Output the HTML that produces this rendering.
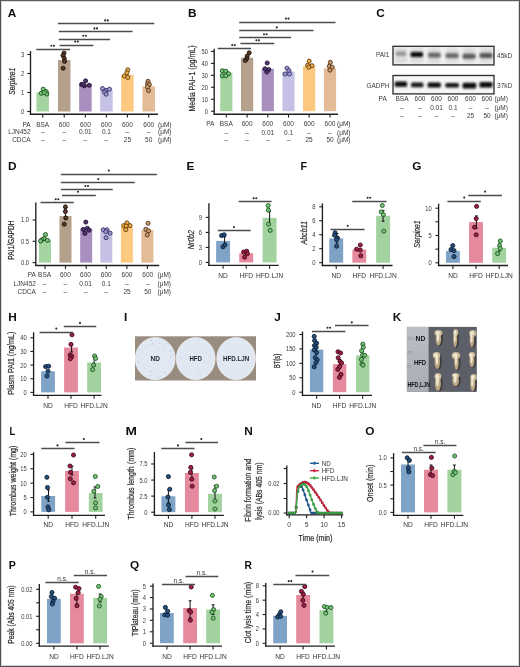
<!DOCTYPE html>
<html><head><meta charset="utf-8"><title>Figure</title>
<style>
html,body{margin:0;padding:0;background:#fff;}
body{width:520px;height:667px;overflow:hidden;}
svg{display:block;font-family:"Liberation Sans", sans-serif;will-change:transform;}
</style></head>
<body>
<svg width="520" height="667" viewBox="0 0 520 667">
<rect x="0" y="0" width="520" height="667" fill="#fff"/>
<text transform="translate(7.80,17.00) scale(1.0,1)" x="0" y="0" font-size="11.8" font-weight="bold" fill="#0e0e0e">A</text>
<line x1="30.50" y1="51.20" x2="30.50" y2="114.50" stroke="#1e1e1e" stroke-width="1.35"/>
<line x1="27.30" y1="111.50" x2="30.50" y2="111.50" stroke="#1e1e1e" stroke-width="1.1"/>
<text transform="translate(24.20,113.98) scale(0.84,1)" x="0" y="0" font-size="6.9" text-anchor="end" font-weight="normal" font-style="normal" fill="#3a3a3a">0</text>
<line x1="27.30" y1="92.50" x2="30.50" y2="92.50" stroke="#1e1e1e" stroke-width="1.1"/>
<text transform="translate(24.20,94.98) scale(0.84,1)" x="0" y="0" font-size="6.9" text-anchor="end" font-weight="normal" font-style="normal" fill="#3a3a3a">1</text>
<line x1="27.30" y1="73.50" x2="30.50" y2="73.50" stroke="#1e1e1e" stroke-width="1.1"/>
<text transform="translate(24.20,75.98) scale(0.84,1)" x="0" y="0" font-size="6.9" text-anchor="end" font-weight="normal" font-style="normal" fill="#3a3a3a">2</text>
<line x1="27.30" y1="54.50" x2="30.50" y2="54.50" stroke="#1e1e1e" stroke-width="1.1"/>
<text transform="translate(24.20,56.98) scale(0.84,1)" x="0" y="0" font-size="6.9" text-anchor="end" font-weight="normal" font-style="normal" fill="#3a3a3a">3</text>
<rect x="36.45" y="92.30" width="12.50" height="19.20" fill="#a4d4a0"/>
<rect x="57.95" y="60.00" width="12.50" height="51.50" fill="#b5a08c"/>
<rect x="79.15" y="84.60" width="12.50" height="26.90" fill="#a88fbf"/>
<rect x="100.15" y="89.40" width="12.50" height="22.10" fill="#c4c1e5"/>
<rect x="121.15" y="74.80" width="12.50" height="36.70" fill="#fdc981"/>
<rect x="142.45" y="86.40" width="12.50" height="25.10" fill="#e3bb96"/>
<line x1="29.85" y1="114.20" x2="158.00" y2="114.20" stroke="#1e1e1e" stroke-width="1.35"/>
<line x1="42.70" y1="114.20" x2="42.70" y2="117.60" stroke="#1e1e1e" stroke-width="1.1"/>
<line x1="64.20" y1="114.20" x2="64.20" y2="117.60" stroke="#1e1e1e" stroke-width="1.1"/>
<line x1="85.40" y1="114.20" x2="85.40" y2="117.60" stroke="#1e1e1e" stroke-width="1.1"/>
<line x1="106.40" y1="114.20" x2="106.40" y2="117.60" stroke="#1e1e1e" stroke-width="1.1"/>
<line x1="127.40" y1="114.20" x2="127.40" y2="117.60" stroke="#1e1e1e" stroke-width="1.1"/>
<line x1="148.70" y1="114.20" x2="148.70" y2="117.60" stroke="#1e1e1e" stroke-width="1.1"/>
<circle cx="43.20" cy="89.20" r="2.05" fill="#7cc47c" stroke="#0f4a17" stroke-width="0.85"/>
<circle cx="41.30" cy="93.30" r="2.05" fill="#7cc47c" stroke="#0f4a17" stroke-width="0.85"/>
<circle cx="46.20" cy="91.60" r="2.05" fill="#7cc47c" stroke="#0f4a17" stroke-width="0.85"/>
<circle cx="46.80" cy="94.00" r="2.05" fill="#7cc47c" stroke="#0f4a17" stroke-width="0.85"/>
<circle cx="44.20" cy="92.60" r="2.05" fill="#7cc47c" stroke="#0f4a17" stroke-width="0.85"/>
<circle cx="64.00" cy="53.00" r="2.05" fill="#553826" stroke="#1e120a" stroke-width="0.85"/>
<circle cx="63.00" cy="55.60" r="2.05" fill="#553826" stroke="#1e120a" stroke-width="0.85"/>
<circle cx="64.30" cy="58.40" r="2.05" fill="#553826" stroke="#1e120a" stroke-width="0.85"/>
<circle cx="64.60" cy="61.40" r="2.05" fill="#553826" stroke="#1e120a" stroke-width="0.85"/>
<circle cx="63.10" cy="68.20" r="2.05" fill="#553826" stroke="#1e120a" stroke-width="0.85"/>
<circle cx="85.60" cy="80.90" r="2.05" fill="#4e3470" stroke="#1f1030" stroke-width="0.85"/>
<circle cx="81.60" cy="84.40" r="2.05" fill="#4e3470" stroke="#1f1030" stroke-width="0.85"/>
<circle cx="84.50" cy="85.80" r="2.05" fill="#4e3470" stroke="#1f1030" stroke-width="0.85"/>
<circle cx="89.30" cy="85.30" r="2.05" fill="#4e3470" stroke="#1f1030" stroke-width="0.85"/>
<circle cx="83.00" cy="84.80" r="2.05" fill="#4e3470" stroke="#1f1030" stroke-width="0.85"/>
<circle cx="102.50" cy="88.50" r="2.05" fill="#9d9ad0" stroke="#2e2b60" stroke-width="0.85"/>
<circle cx="106.00" cy="90.40" r="2.05" fill="#9d9ad0" stroke="#2e2b60" stroke-width="0.85"/>
<circle cx="109.40" cy="89.20" r="2.05" fill="#9d9ad0" stroke="#2e2b60" stroke-width="0.85"/>
<circle cx="104.60" cy="92.20" r="2.05" fill="#9d9ad0" stroke="#2e2b60" stroke-width="0.85"/>
<circle cx="106.20" cy="94.20" r="2.05" fill="#9d9ad0" stroke="#2e2b60" stroke-width="0.85"/>
<circle cx="127.80" cy="69.80" r="2.05" fill="#eeaa48" stroke="#5a3a08" stroke-width="0.85"/>
<circle cx="126.90" cy="72.80" r="2.05" fill="#eeaa48" stroke="#5a3a08" stroke-width="0.85"/>
<circle cx="124.40" cy="76.00" r="2.05" fill="#eeaa48" stroke="#5a3a08" stroke-width="0.85"/>
<circle cx="127.80" cy="77.50" r="2.05" fill="#eeaa48" stroke="#5a3a08" stroke-width="0.85"/>
<circle cx="148.10" cy="81.30" r="2.05" fill="#c99a6c" stroke="#4a2e14" stroke-width="0.85"/>
<circle cx="147.50" cy="83.80" r="2.05" fill="#c99a6c" stroke="#4a2e14" stroke-width="0.85"/>
<circle cx="149.40" cy="84.60" r="2.05" fill="#c99a6c" stroke="#4a2e14" stroke-width="0.85"/>
<circle cx="147.50" cy="86.90" r="2.05" fill="#c99a6c" stroke="#4a2e14" stroke-width="0.85"/>
<circle cx="148.50" cy="90.60" r="2.05" fill="#c99a6c" stroke="#4a2e14" stroke-width="0.85"/>
<line x1="58.00" y1="23.50" x2="154.30" y2="23.50" stroke="#4c4c4c" stroke-width="1.3"/>
<circle cx="105.20" cy="20.40" r="1.05" fill="#2a2a2a"/>
<circle cx="107.80" cy="20.40" r="1.05" fill="#2a2a2a"/>
<line x1="58.80" y1="31.50" x2="132.60" y2="31.50" stroke="#4c4c4c" stroke-width="1.3"/>
<circle cx="94.40" cy="28.40" r="1.05" fill="#2a2a2a"/>
<circle cx="97.00" cy="28.40" r="1.05" fill="#2a2a2a"/>
<line x1="58.80" y1="39.50" x2="110.00" y2="39.50" stroke="#4c4c4c" stroke-width="1.3"/>
<circle cx="83.30" cy="35.80" r="1.05" fill="#2a2a2a"/>
<circle cx="85.90" cy="35.80" r="1.05" fill="#2a2a2a"/>
<line x1="59.70" y1="45.50" x2="93.40" y2="45.50" stroke="#4c4c4c" stroke-width="1.3"/>
<circle cx="75.20" cy="41.60" r="1.05" fill="#2a2a2a"/>
<circle cx="77.80" cy="41.60" r="1.05" fill="#2a2a2a"/>
<line x1="36.20" y1="49.50" x2="70.00" y2="49.50" stroke="#4c4c4c" stroke-width="1.3"/>
<circle cx="51.40" cy="45.80" r="1.05" fill="#2a2a2a"/>
<circle cx="54.00" cy="45.80" r="1.05" fill="#2a2a2a"/>
<text transform="translate(12.00,81.20) rotate(-90)" x="0" y="2.95" font-size="8.2" text-anchor="middle" font-weight="normal" font-style="italic" fill="#2e2e2e" stroke="#2e2e2e" stroke-width="0.22" textLength="26.90" lengthAdjust="spacingAndGlyphs">Serpine1</text>
<text x="30.60" y="126.84" font-size="6.5" text-anchor="end" font-weight="normal" font-style="normal" fill="#3a3a3a">PA</text>
<text x="42.70" y="126.84" font-size="6.5" text-anchor="middle" font-weight="normal" font-style="normal" fill="#3a3a3a">BSA</text>
<text x="64.20" y="126.84" font-size="6.5" text-anchor="middle" font-weight="normal" font-style="normal" fill="#3a3a3a">600</text>
<text x="85.40" y="126.84" font-size="6.5" text-anchor="middle" font-weight="normal" font-style="normal" fill="#3a3a3a">600</text>
<text x="106.40" y="126.84" font-size="6.5" text-anchor="middle" font-weight="normal" font-style="normal" fill="#3a3a3a">600</text>
<text x="127.40" y="126.84" font-size="6.5" text-anchor="middle" font-weight="normal" font-style="normal" fill="#3a3a3a">600</text>
<text x="148.70" y="126.84" font-size="6.5" text-anchor="middle" font-weight="normal" font-style="normal" fill="#3a3a3a">600</text>
<text x="158.00" y="126.84" font-size="6.5" text-anchor="start" font-weight="normal" font-style="normal" fill="#3a3a3a">(μM)</text>
<text x="30.60" y="134.34" font-size="6.5" text-anchor="end" font-weight="normal" font-style="normal" fill="#3a3a3a">LJN452</text>
<text x="42.70" y="134.34" font-size="6.5" text-anchor="middle" font-weight="normal" font-style="normal" fill="#3a3a3a">–</text>
<text x="64.20" y="134.34" font-size="6.5" text-anchor="middle" font-weight="normal" font-style="normal" fill="#3a3a3a">–</text>
<text x="85.40" y="134.34" font-size="6.5" text-anchor="middle" font-weight="normal" font-style="normal" fill="#3a3a3a">0.01</text>
<text x="106.40" y="134.34" font-size="6.5" text-anchor="middle" font-weight="normal" font-style="normal" fill="#3a3a3a">0.1</text>
<text x="127.40" y="134.34" font-size="6.5" text-anchor="middle" font-weight="normal" font-style="normal" fill="#3a3a3a">–</text>
<text x="148.70" y="134.34" font-size="6.5" text-anchor="middle" font-weight="normal" font-style="normal" fill="#3a3a3a">–</text>
<text x="158.00" y="134.34" font-size="6.5" text-anchor="start" font-weight="normal" font-style="normal" fill="#3a3a3a">(μM)</text>
<text x="30.60" y="141.94" font-size="6.5" text-anchor="end" font-weight="normal" font-style="normal" fill="#3a3a3a">CDCA</text>
<text x="42.70" y="141.94" font-size="6.5" text-anchor="middle" font-weight="normal" font-style="normal" fill="#3a3a3a">–</text>
<text x="64.20" y="141.94" font-size="6.5" text-anchor="middle" font-weight="normal" font-style="normal" fill="#3a3a3a">–</text>
<text x="85.40" y="141.94" font-size="6.5" text-anchor="middle" font-weight="normal" font-style="normal" fill="#3a3a3a">–</text>
<text x="106.40" y="141.94" font-size="6.5" text-anchor="middle" font-weight="normal" font-style="normal" fill="#3a3a3a">–</text>
<text x="127.40" y="141.94" font-size="6.5" text-anchor="middle" font-weight="normal" font-style="normal" fill="#3a3a3a">25</text>
<text x="148.70" y="141.94" font-size="6.5" text-anchor="middle" font-weight="normal" font-style="normal" fill="#3a3a3a">50</text>
<text x="158.00" y="141.94" font-size="6.5" text-anchor="start" font-weight="normal" font-style="normal" fill="#3a3a3a">(μM)</text>
<text transform="translate(188.00,16.90) scale(1.0,1)" x="0" y="0" font-size="11.8" font-weight="bold" fill="#0e0e0e">B</text>
<line x1="214.20" y1="48.70" x2="214.20" y2="114.50" stroke="#1e1e1e" stroke-width="1.35"/>
<line x1="211.00" y1="111.20" x2="214.20" y2="111.20" stroke="#1e1e1e" stroke-width="1.1"/>
<text transform="translate(208.00,113.68) scale(0.84,1)" x="0" y="0" font-size="6.9" text-anchor="end" font-weight="normal" font-style="normal" fill="#3a3a3a">0</text>
<line x1="211.00" y1="99.25" x2="214.20" y2="99.25" stroke="#1e1e1e" stroke-width="1.1"/>
<text transform="translate(208.00,101.73) scale(0.84,1)" x="0" y="0" font-size="6.9" text-anchor="end" font-weight="normal" font-style="normal" fill="#3a3a3a">10</text>
<line x1="211.00" y1="87.30" x2="214.20" y2="87.30" stroke="#1e1e1e" stroke-width="1.1"/>
<text transform="translate(208.00,89.78) scale(0.84,1)" x="0" y="0" font-size="6.9" text-anchor="end" font-weight="normal" font-style="normal" fill="#3a3a3a">20</text>
<line x1="211.00" y1="75.35" x2="214.20" y2="75.35" stroke="#1e1e1e" stroke-width="1.1"/>
<text transform="translate(208.00,77.83) scale(0.84,1)" x="0" y="0" font-size="6.9" text-anchor="end" font-weight="normal" font-style="normal" fill="#3a3a3a">30</text>
<line x1="211.00" y1="63.40" x2="214.20" y2="63.40" stroke="#1e1e1e" stroke-width="1.1"/>
<text transform="translate(208.00,65.88) scale(0.84,1)" x="0" y="0" font-size="6.9" text-anchor="end" font-weight="normal" font-style="normal" fill="#3a3a3a">40</text>
<line x1="211.00" y1="51.45" x2="214.20" y2="51.45" stroke="#1e1e1e" stroke-width="1.1"/>
<text transform="translate(208.00,53.93) scale(0.84,1)" x="0" y="0" font-size="6.9" text-anchor="end" font-weight="normal" font-style="normal" fill="#3a3a3a">50</text>
<rect x="220.20" y="73.00" width="12.20" height="38.20" fill="#a4d4a0"/>
<rect x="241.00" y="57.70" width="12.20" height="53.50" fill="#b5a08c"/>
<rect x="261.70" y="68.80" width="12.20" height="42.40" fill="#a88fbf"/>
<rect x="282.40" y="71.70" width="12.20" height="39.50" fill="#c4c1e5"/>
<rect x="303.00" y="66.00" width="12.20" height="45.20" fill="#fdc981"/>
<rect x="323.90" y="68.30" width="12.20" height="42.90" fill="#e3bb96"/>
<line x1="213.55" y1="114.20" x2="338.00" y2="114.20" stroke="#1e1e1e" stroke-width="1.35"/>
<line x1="226.30" y1="114.20" x2="226.30" y2="117.60" stroke="#1e1e1e" stroke-width="1.1"/>
<line x1="247.10" y1="114.20" x2="247.10" y2="117.60" stroke="#1e1e1e" stroke-width="1.1"/>
<line x1="267.80" y1="114.20" x2="267.80" y2="117.60" stroke="#1e1e1e" stroke-width="1.1"/>
<line x1="288.50" y1="114.20" x2="288.50" y2="117.60" stroke="#1e1e1e" stroke-width="1.1"/>
<line x1="309.10" y1="114.20" x2="309.10" y2="117.60" stroke="#1e1e1e" stroke-width="1.1"/>
<line x1="330.00" y1="114.20" x2="330.00" y2="117.60" stroke="#1e1e1e" stroke-width="1.1"/>
<circle cx="222.30" cy="70.80" r="2.05" fill="#7cc47c" stroke="#0f4a17" stroke-width="0.85"/>
<circle cx="225.80" cy="71.20" r="2.05" fill="#7cc47c" stroke="#0f4a17" stroke-width="0.85"/>
<circle cx="228.50" cy="73.80" r="2.05" fill="#7cc47c" stroke="#0f4a17" stroke-width="0.85"/>
<circle cx="222.30" cy="75.80" r="2.05" fill="#7cc47c" stroke="#0f4a17" stroke-width="0.85"/>
<circle cx="225.80" cy="75.80" r="2.05" fill="#7cc47c" stroke="#0f4a17" stroke-width="0.85"/>
<circle cx="249.20" cy="52.80" r="2.05" fill="#553826" stroke="#1e120a" stroke-width="0.85"/>
<circle cx="247.20" cy="56.10" r="2.05" fill="#553826" stroke="#1e120a" stroke-width="0.85"/>
<circle cx="246.70" cy="58.60" r="2.05" fill="#553826" stroke="#1e120a" stroke-width="0.85"/>
<circle cx="245.30" cy="60.50" r="2.05" fill="#553826" stroke="#1e120a" stroke-width="0.85"/>
<circle cx="267.20" cy="63.00" r="2.05" fill="#4e3470" stroke="#1f1030" stroke-width="0.85"/>
<circle cx="264.90" cy="68.80" r="2.05" fill="#4e3470" stroke="#1f1030" stroke-width="0.85"/>
<circle cx="268.80" cy="69.50" r="2.05" fill="#4e3470" stroke="#1f1030" stroke-width="0.85"/>
<circle cx="266.80" cy="72.00" r="2.05" fill="#4e3470" stroke="#1f1030" stroke-width="0.85"/>
<circle cx="287.00" cy="68.20" r="2.05" fill="#9d9ad0" stroke="#2e2b60" stroke-width="0.85"/>
<circle cx="289.00" cy="70.70" r="2.05" fill="#9d9ad0" stroke="#2e2b60" stroke-width="0.85"/>
<circle cx="285.10" cy="74.00" r="2.05" fill="#9d9ad0" stroke="#2e2b60" stroke-width="0.85"/>
<circle cx="289.50" cy="74.00" r="2.05" fill="#9d9ad0" stroke="#2e2b60" stroke-width="0.85"/>
<circle cx="309.20" cy="61.10" r="2.05" fill="#eeaa48" stroke="#5a3a08" stroke-width="0.85"/>
<circle cx="307.60" cy="65.30" r="2.05" fill="#eeaa48" stroke="#5a3a08" stroke-width="0.85"/>
<circle cx="312.00" cy="65.70" r="2.05" fill="#eeaa48" stroke="#5a3a08" stroke-width="0.85"/>
<circle cx="308.80" cy="67.20" r="2.05" fill="#eeaa48" stroke="#5a3a08" stroke-width="0.85"/>
<circle cx="330.30" cy="62.40" r="2.05" fill="#c99a6c" stroke="#4a2e14" stroke-width="0.85"/>
<circle cx="329.30" cy="66.30" r="2.05" fill="#c99a6c" stroke="#4a2e14" stroke-width="0.85"/>
<circle cx="332.20" cy="67.20" r="2.05" fill="#c99a6c" stroke="#4a2e14" stroke-width="0.85"/>
<circle cx="329.90" cy="70.10" r="2.05" fill="#c99a6c" stroke="#4a2e14" stroke-width="0.85"/>
<line x1="239.20" y1="22.50" x2="335.50" y2="22.50" stroke="#4c4c4c" stroke-width="1.3"/>
<circle cx="285.90" cy="18.60" r="1.05" fill="#2a2a2a"/>
<circle cx="288.50" cy="18.60" r="1.05" fill="#2a2a2a"/>
<line x1="239.20" y1="30.50" x2="313.50" y2="30.50" stroke="#4c4c4c" stroke-width="1.3"/>
<circle cx="276.80" cy="27.40" r="1.05" fill="#2a2a2a"/>
<line x1="239.20" y1="37.50" x2="291.00" y2="37.50" stroke="#4c4c4c" stroke-width="1.3"/>
<circle cx="264.00" cy="34.30" r="1.05" fill="#2a2a2a"/>
<circle cx="266.60" cy="34.30" r="1.05" fill="#2a2a2a"/>
<line x1="240.40" y1="43.50" x2="274.30" y2="43.50" stroke="#4c4c4c" stroke-width="1.3"/>
<circle cx="256.40" cy="40.30" r="1.05" fill="#2a2a2a"/>
<circle cx="259.00" cy="40.30" r="1.05" fill="#2a2a2a"/>
<line x1="217.70" y1="48.50" x2="251.00" y2="48.50" stroke="#4c4c4c" stroke-width="1.3"/>
<circle cx="232.20" cy="45.10" r="1.05" fill="#2a2a2a"/>
<circle cx="234.80" cy="45.10" r="1.05" fill="#2a2a2a"/>
<text transform="translate(191.80,78.50) rotate(-90)" x="0" y="2.95" font-size="8.2" text-anchor="middle" font-weight="normal" font-style="normal" fill="#2e2e2e" stroke="#2e2e2e" stroke-width="0.22" textLength="66.10" lengthAdjust="spacingAndGlyphs">Media PAI−1 (pg/mL)</text>
<text x="214.40" y="126.34" font-size="6.5" text-anchor="end" font-weight="normal" font-style="normal" fill="#3a3a3a">PA</text>
<text x="226.30" y="126.34" font-size="6.5" text-anchor="middle" font-weight="normal" font-style="normal" fill="#3a3a3a">BSA</text>
<text x="247.10" y="126.34" font-size="6.5" text-anchor="middle" font-weight="normal" font-style="normal" fill="#3a3a3a">600</text>
<text x="267.80" y="126.34" font-size="6.5" text-anchor="middle" font-weight="normal" font-style="normal" fill="#3a3a3a">600</text>
<text x="288.50" y="126.34" font-size="6.5" text-anchor="middle" font-weight="normal" font-style="normal" fill="#3a3a3a">600</text>
<text x="309.10" y="126.34" font-size="6.5" text-anchor="middle" font-weight="normal" font-style="normal" fill="#3a3a3a">600</text>
<text x="330.00" y="126.34" font-size="6.5" text-anchor="middle" font-weight="normal" font-style="normal" fill="#3a3a3a">600</text>
<text x="337.00" y="126.34" font-size="6.5" text-anchor="start" font-weight="normal" font-style="normal" fill="#3a3a3a">(μM)</text>
<text x="226.30" y="134.64" font-size="6.5" text-anchor="middle" font-weight="normal" font-style="normal" fill="#3a3a3a">–</text>
<text x="247.10" y="134.64" font-size="6.5" text-anchor="middle" font-weight="normal" font-style="normal" fill="#3a3a3a">–</text>
<text x="267.80" y="134.64" font-size="6.5" text-anchor="middle" font-weight="normal" font-style="normal" fill="#3a3a3a">0.01</text>
<text x="288.50" y="134.64" font-size="6.5" text-anchor="middle" font-weight="normal" font-style="normal" fill="#3a3a3a">0.1</text>
<text x="309.10" y="134.64" font-size="6.5" text-anchor="middle" font-weight="normal" font-style="normal" fill="#3a3a3a">–</text>
<text x="330.00" y="134.64" font-size="6.5" text-anchor="middle" font-weight="normal" font-style="normal" fill="#3a3a3a">–</text>
<text x="337.00" y="134.64" font-size="6.5" text-anchor="start" font-weight="normal" font-style="normal" fill="#3a3a3a">(μM)</text>
<text x="226.30" y="142.34" font-size="6.5" text-anchor="middle" font-weight="normal" font-style="normal" fill="#3a3a3a">–</text>
<text x="247.10" y="142.34" font-size="6.5" text-anchor="middle" font-weight="normal" font-style="normal" fill="#3a3a3a">–</text>
<text x="267.80" y="142.34" font-size="6.5" text-anchor="middle" font-weight="normal" font-style="normal" fill="#3a3a3a">–</text>
<text x="288.50" y="142.34" font-size="6.5" text-anchor="middle" font-weight="normal" font-style="normal" fill="#3a3a3a">–</text>
<text x="309.10" y="142.34" font-size="6.5" text-anchor="middle" font-weight="normal" font-style="normal" fill="#3a3a3a">25</text>
<text x="330.00" y="142.34" font-size="6.5" text-anchor="middle" font-weight="normal" font-style="normal" fill="#3a3a3a">50</text>
<text x="337.00" y="142.34" font-size="6.5" text-anchor="start" font-weight="normal" font-style="normal" fill="#3a3a3a">(μM)</text>
<text transform="translate(376.30,17.30) scale(1.0,1)" x="0" y="0" font-size="11.8" font-weight="bold" fill="#0e0e0e">C</text>
<defs>
<filter id="blur1" x="-20%" y="-80%" width="140%" height="260%"><feGaussianBlur stdDeviation="1.1 1.2"/></filter>
<filter id="blur2" x="-20%" y="-20%" width="140%" height="140%"><feGaussianBlur stdDeviation="1.6"/></filter>
<filter id="blur3" x="-20%" y="-20%" width="140%" height="140%"><feGaussianBlur stdDeviation="0.6"/></filter>
</defs>
<rect x="392.80" y="46.00" width="101.40" height="18.80" fill="#f1f1f1"/>
<g filter="url(#blur2)">
<rect x="394.7" y="48" width="12.4" height="15" fill="#000" opacity="0.09"/>
<rect x="410.6" y="48" width="12.4" height="15" fill="#000" opacity="0.09"/>
<rect x="428.1" y="48" width="12.4" height="15" fill="#000" opacity="0.09"/>
<rect x="445.90000000000003" y="48" width="12.4" height="15" fill="#000" opacity="0.09"/>
<rect x="462.90000000000003" y="48" width="12.4" height="15" fill="#000" opacity="0.09"/>
<rect x="479.8" y="48" width="12.4" height="15" fill="#000" opacity="0.09"/>
</g>
<g filter="url(#blur1)">
<rect x="395.7" y="51.5" width="10.4" height="4.6" rx="1.5" fill="#111" opacity="0.3"/>
<rect x="410.6" y="51.9" width="12.4" height="5.0" rx="1.5" fill="#111" opacity="1.0"/>
<rect x="428.0" y="52.7" width="12.6" height="4.8" rx="1.5" fill="#111" opacity="0.58"/>
<rect x="445.6" y="53.2" width="13.0" height="4.8" rx="1.5" fill="#111" opacity="0.58"/>
<rect x="462.70000000000005" y="53.8" width="12.8" height="5.0" rx="1.5" fill="#111" opacity="0.64"/>
<rect x="479.6" y="53.0" width="12.8" height="5.0" rx="1.5" fill="#111" opacity="0.66"/>
</g>
<rect x="393.00" y="46.30" width="101.00" height="18.60" fill="none" stroke="#303030" stroke-width="1.35"/>
<rect x="392.80" y="75.20" width="101.40" height="18.60" fill="#f6f6f6"/>
<g filter="url(#blur1)">
<rect x="394.7" y="81.60000000000001" width="12.4" height="5.2" rx="1.5" fill="#080808" opacity="1.0"/>
<rect x="411.0" y="82.60000000000001" width="12.4" height="4.6" rx="1.5" fill="#080808" opacity="0.95"/>
<rect x="427.59999999999997" y="82.6" width="13.2" height="4.8" rx="1.5" fill="#080808" opacity="1.0"/>
<rect x="445.3" y="83.0" width="13.6" height="4.6" rx="1.5" fill="#080808" opacity="0.97"/>
<rect x="462.59999999999997" y="82.8" width="13.6" height="5.6" rx="1.5" fill="#080808" opacity="1.0"/>
<rect x="479.5" y="82.1" width="13.0" height="5.4" rx="1.5" fill="#080808" opacity="1.0"/>
</g>
<rect x="393.00" y="75.50" width="101.00" height="18.40" fill="none" stroke="#303030" stroke-width="1.35"/>
<text x="389.40" y="57.45" font-size="6.8" text-anchor="end" font-weight="normal" font-style="normal" fill="#3a3a3a" textLength="13.50" lengthAdjust="spacingAndGlyphs">PAI1</text>
<text x="389.40" y="87.95" font-size="6.8" text-anchor="end" font-weight="normal" font-style="normal" fill="#3a3a3a" textLength="23.00" lengthAdjust="spacingAndGlyphs">GADPH</text>
<text x="497.00" y="57.75" font-size="6.8" text-anchor="start" font-weight="normal" font-style="normal" fill="#3a3a3a" textLength="15.30" lengthAdjust="spacingAndGlyphs">45kD</text>
<text x="497.00" y="87.95" font-size="6.8" text-anchor="start" font-weight="normal" font-style="normal" fill="#3a3a3a" textLength="15.30" lengthAdjust="spacingAndGlyphs">37kD</text>
<text x="386.80" y="101.24" font-size="6.5" text-anchor="end" font-weight="normal" font-style="normal" fill="#3a3a3a">PA</text>
<text x="402.00" y="101.24" font-size="6.5" text-anchor="middle" font-weight="normal" font-style="normal" fill="#3a3a3a">BSA</text>
<text x="420.00" y="101.24" font-size="6.5" text-anchor="middle" font-weight="normal" font-style="normal" fill="#3a3a3a">600</text>
<text x="436.50" y="101.24" font-size="6.5" text-anchor="middle" font-weight="normal" font-style="normal" fill="#3a3a3a">600</text>
<text x="453.00" y="101.24" font-size="6.5" text-anchor="middle" font-weight="normal" font-style="normal" fill="#3a3a3a">600</text>
<text x="470.50" y="101.24" font-size="6.5" text-anchor="middle" font-weight="normal" font-style="normal" fill="#3a3a3a">600</text>
<text x="487.00" y="101.24" font-size="6.5" text-anchor="middle" font-weight="normal" font-style="normal" fill="#3a3a3a">600</text>
<text x="494.40" y="101.24" font-size="6.5" text-anchor="start" font-weight="normal" font-style="normal" fill="#3a3a3a">(μM)</text>
<text x="402.00" y="109.64" font-size="6.5" text-anchor="middle" font-weight="normal" font-style="normal" fill="#3a3a3a">–</text>
<text x="420.00" y="109.64" font-size="6.5" text-anchor="middle" font-weight="normal" font-style="normal" fill="#3a3a3a">–</text>
<text x="436.50" y="109.64" font-size="6.5" text-anchor="middle" font-weight="normal" font-style="normal" fill="#3a3a3a">0.01</text>
<text x="453.00" y="109.64" font-size="6.5" text-anchor="middle" font-weight="normal" font-style="normal" fill="#3a3a3a">0.1</text>
<text x="470.50" y="109.64" font-size="6.5" text-anchor="middle" font-weight="normal" font-style="normal" fill="#3a3a3a">–</text>
<text x="487.00" y="109.64" font-size="6.5" text-anchor="middle" font-weight="normal" font-style="normal" fill="#3a3a3a">–</text>
<text x="494.40" y="109.64" font-size="6.5" text-anchor="start" font-weight="normal" font-style="normal" fill="#3a3a3a">(μM)</text>
<text x="402.00" y="117.94" font-size="6.5" text-anchor="middle" font-weight="normal" font-style="normal" fill="#3a3a3a">–</text>
<text x="420.00" y="117.94" font-size="6.5" text-anchor="middle" font-weight="normal" font-style="normal" fill="#3a3a3a">–</text>
<text x="436.50" y="117.94" font-size="6.5" text-anchor="middle" font-weight="normal" font-style="normal" fill="#3a3a3a">–</text>
<text x="453.00" y="117.94" font-size="6.5" text-anchor="middle" font-weight="normal" font-style="normal" fill="#3a3a3a">–</text>
<text x="470.50" y="117.94" font-size="6.5" text-anchor="middle" font-weight="normal" font-style="normal" fill="#3a3a3a">25</text>
<text x="487.00" y="117.94" font-size="6.5" text-anchor="middle" font-weight="normal" font-style="normal" fill="#3a3a3a">50</text>
<text x="494.40" y="117.94" font-size="6.5" text-anchor="start" font-weight="normal" font-style="normal" fill="#3a3a3a">(μM)</text>
<text transform="translate(8.10,169.80) scale(1.0,1)" x="0" y="0" font-size="11.8" font-weight="bold" fill="#0e0e0e">D</text>
<line x1="35.80" y1="202.60" x2="35.80" y2="265.80" stroke="#1e1e1e" stroke-width="1.35"/>
<line x1="32.60" y1="262.60" x2="35.80" y2="262.60" stroke="#1e1e1e" stroke-width="1.1"/>
<text transform="translate(29.00,265.08) scale(0.84,1)" x="0" y="0" font-size="6.9" text-anchor="end" font-weight="normal" font-style="normal" fill="#3a3a3a">0.0</text>
<line x1="32.60" y1="241.30" x2="35.80" y2="241.30" stroke="#1e1e1e" stroke-width="1.1"/>
<text transform="translate(29.00,243.78) scale(0.84,1)" x="0" y="0" font-size="6.9" text-anchor="end" font-weight="normal" font-style="normal" fill="#3a3a3a">0.5</text>
<line x1="32.60" y1="220.00" x2="35.80" y2="220.00" stroke="#1e1e1e" stroke-width="1.1"/>
<text transform="translate(29.00,222.48) scale(0.84,1)" x="0" y="0" font-size="6.9" text-anchor="end" font-weight="normal" font-style="normal" fill="#3a3a3a">1.0</text>
<rect x="39.00" y="240.00" width="12.00" height="22.60" fill="#a4d4a0"/>
<rect x="59.50" y="216.10" width="12.00" height="46.50" fill="#b5a08c"/>
<rect x="80.20" y="228.60" width="12.00" height="34.00" fill="#a88fbf"/>
<rect x="100.30" y="232.00" width="12.00" height="30.60" fill="#c4c1e5"/>
<rect x="120.90" y="227.00" width="12.00" height="35.60" fill="#fdc981"/>
<rect x="141.40" y="230.20" width="12.00" height="32.40" fill="#e3bb96"/>
<line x1="35.15" y1="265.50" x2="159.20" y2="265.50" stroke="#1e1e1e" stroke-width="1.35"/>
<line x1="45.00" y1="265.50" x2="45.00" y2="268.90" stroke="#1e1e1e" stroke-width="1.1"/>
<line x1="65.50" y1="265.50" x2="65.50" y2="268.90" stroke="#1e1e1e" stroke-width="1.1"/>
<line x1="86.20" y1="265.50" x2="86.20" y2="268.90" stroke="#1e1e1e" stroke-width="1.1"/>
<line x1="106.30" y1="265.50" x2="106.30" y2="268.90" stroke="#1e1e1e" stroke-width="1.1"/>
<line x1="126.90" y1="265.50" x2="126.90" y2="268.90" stroke="#1e1e1e" stroke-width="1.1"/>
<line x1="147.40" y1="265.50" x2="147.40" y2="268.90" stroke="#1e1e1e" stroke-width="1.1"/>
<line x1="65.40" y1="209.80" x2="65.40" y2="219.50" stroke="#111" stroke-width="1.0"/>
<line x1="64.00" y1="209.80" x2="66.80" y2="209.80" stroke="#111" stroke-width="1.0"/>
<line x1="64.00" y1="219.50" x2="66.80" y2="219.50" stroke="#111" stroke-width="1.0"/>
<circle cx="45.50" cy="234.60" r="2.05" fill="#7cc47c" stroke="#0f4a17" stroke-width="0.85"/>
<circle cx="44.10" cy="238.60" r="2.05" fill="#7cc47c" stroke="#0f4a17" stroke-width="0.85"/>
<circle cx="41.80" cy="239.80" r="2.05" fill="#7cc47c" stroke="#0f4a17" stroke-width="0.85"/>
<circle cx="47.50" cy="240.40" r="2.05" fill="#7cc47c" stroke="#0f4a17" stroke-width="0.85"/>
<circle cx="40.60" cy="241.00" r="2.05" fill="#7cc47c" stroke="#0f4a17" stroke-width="0.85"/>
<circle cx="65.40" cy="206.90" r="2.05" fill="#553826" stroke="#1e120a" stroke-width="0.85"/>
<circle cx="65.40" cy="211.50" r="2.05" fill="#553826" stroke="#1e120a" stroke-width="0.85"/>
<circle cx="65.80" cy="217.90" r="2.05" fill="#553826" stroke="#1e120a" stroke-width="0.85"/>
<circle cx="64.30" cy="224.20" r="2.05" fill="#553826" stroke="#1e120a" stroke-width="0.85"/>
<circle cx="85.80" cy="222.10" r="2.05" fill="#4e3470" stroke="#1f1030" stroke-width="0.85"/>
<circle cx="83.30" cy="229.40" r="2.05" fill="#4e3470" stroke="#1f1030" stroke-width="0.85"/>
<circle cx="87.30" cy="228.30" r="2.05" fill="#4e3470" stroke="#1f1030" stroke-width="0.85"/>
<circle cx="89.10" cy="230.20" r="2.05" fill="#4e3470" stroke="#1f1030" stroke-width="0.85"/>
<circle cx="85.00" cy="233.40" r="2.05" fill="#4e3470" stroke="#1f1030" stroke-width="0.85"/>
<circle cx="103.20" cy="229.80" r="2.05" fill="#9d9ad0" stroke="#2e2b60" stroke-width="0.85"/>
<circle cx="107.00" cy="229.80" r="2.05" fill="#9d9ad0" stroke="#2e2b60" stroke-width="0.85"/>
<circle cx="110.10" cy="233.10" r="2.05" fill="#9d9ad0" stroke="#2e2b60" stroke-width="0.85"/>
<circle cx="105.80" cy="231.70" r="2.05" fill="#9d9ad0" stroke="#2e2b60" stroke-width="0.85"/>
<circle cx="106.10" cy="237.70" r="2.05" fill="#9d9ad0" stroke="#2e2b60" stroke-width="0.85"/>
<circle cx="126.90" cy="222.90" r="2.05" fill="#eeaa48" stroke="#5a3a08" stroke-width="0.85"/>
<circle cx="123.70" cy="225.60" r="2.05" fill="#eeaa48" stroke="#5a3a08" stroke-width="0.85"/>
<circle cx="130.00" cy="225.60" r="2.05" fill="#eeaa48" stroke="#5a3a08" stroke-width="0.85"/>
<circle cx="126.20" cy="226.10" r="2.05" fill="#eeaa48" stroke="#5a3a08" stroke-width="0.85"/>
<circle cx="125.80" cy="229.60" r="2.05" fill="#eeaa48" stroke="#5a3a08" stroke-width="0.85"/>
<circle cx="148.10" cy="223.30" r="2.05" fill="#c99a6c" stroke="#4a2e14" stroke-width="0.85"/>
<circle cx="145.80" cy="229.40" r="2.05" fill="#c99a6c" stroke="#4a2e14" stroke-width="0.85"/>
<circle cx="148.50" cy="230.80" r="2.05" fill="#c99a6c" stroke="#4a2e14" stroke-width="0.85"/>
<circle cx="147.30" cy="234.80" r="2.05" fill="#c99a6c" stroke="#4a2e14" stroke-width="0.85"/>
<line x1="60.80" y1="174.50" x2="156.90" y2="174.50" stroke="#4c4c4c" stroke-width="1.3"/>
<circle cx="108.80" cy="170.60" r="1.05" fill="#2a2a2a"/>
<line x1="60.80" y1="182.50" x2="134.80" y2="182.50" stroke="#4c4c4c" stroke-width="1.3"/>
<circle cx="98.30" cy="179.10" r="1.05" fill="#2a2a2a"/>
<line x1="60.80" y1="189.50" x2="112.70" y2="189.50" stroke="#4c4c4c" stroke-width="1.3"/>
<circle cx="85.40" cy="186.00" r="1.05" fill="#2a2a2a"/>
<circle cx="88.00" cy="186.00" r="1.05" fill="#2a2a2a"/>
<line x1="62.10" y1="195.50" x2="95.80" y2="195.50" stroke="#4c4c4c" stroke-width="1.3"/>
<circle cx="78.00" cy="191.80" r="1.05" fill="#2a2a2a"/>
<line x1="40.50" y1="202.50" x2="73.80" y2="202.50" stroke="#4c4c4c" stroke-width="1.3"/>
<circle cx="55.70" cy="199.20" r="1.05" fill="#2a2a2a"/>
<circle cx="58.30" cy="199.20" r="1.05" fill="#2a2a2a"/>
<text transform="translate(11.20,240.10) rotate(-90)" x="0" y="2.95" font-size="8.2" text-anchor="middle" font-weight="normal" font-style="normal" fill="#2e2e2e" stroke="#2e2e2e" stroke-width="0.22" textLength="39.30" lengthAdjust="spacingAndGlyphs">PAI1/GAPDH</text>
<text x="35.90" y="277.34" font-size="6.5" text-anchor="end" font-weight="normal" font-style="normal" fill="#3a3a3a">PA</text>
<text x="44.60" y="277.34" font-size="6.5" text-anchor="middle" font-weight="normal" font-style="normal" fill="#3a3a3a">BSA</text>
<text x="65.40" y="277.34" font-size="6.5" text-anchor="middle" font-weight="normal" font-style="normal" fill="#3a3a3a">600</text>
<text x="85.50" y="277.34" font-size="6.5" text-anchor="middle" font-weight="normal" font-style="normal" fill="#3a3a3a">600</text>
<text x="106.30" y="277.34" font-size="6.5" text-anchor="middle" font-weight="normal" font-style="normal" fill="#3a3a3a">600</text>
<text x="127.00" y="277.34" font-size="6.5" text-anchor="middle" font-weight="normal" font-style="normal" fill="#3a3a3a">600</text>
<text x="147.80" y="277.34" font-size="6.5" text-anchor="middle" font-weight="normal" font-style="normal" fill="#3a3a3a">600</text>
<text x="157.50" y="277.34" font-size="6.5" text-anchor="start" font-weight="normal" font-style="normal" fill="#3a3a3a">(μM)</text>
<text x="35.90" y="285.64" font-size="6.5" text-anchor="end" font-weight="normal" font-style="normal" fill="#3a3a3a">LJN452</text>
<text x="44.60" y="285.64" font-size="6.5" text-anchor="middle" font-weight="normal" font-style="normal" fill="#3a3a3a">–</text>
<text x="65.40" y="285.64" font-size="6.5" text-anchor="middle" font-weight="normal" font-style="normal" fill="#3a3a3a">–</text>
<text x="85.50" y="285.64" font-size="6.5" text-anchor="middle" font-weight="normal" font-style="normal" fill="#3a3a3a">0.01</text>
<text x="106.30" y="285.64" font-size="6.5" text-anchor="middle" font-weight="normal" font-style="normal" fill="#3a3a3a">0.1</text>
<text x="127.00" y="285.64" font-size="6.5" text-anchor="middle" font-weight="normal" font-style="normal" fill="#3a3a3a">–</text>
<text x="147.80" y="285.64" font-size="6.5" text-anchor="middle" font-weight="normal" font-style="normal" fill="#3a3a3a">–</text>
<text x="157.50" y="285.64" font-size="6.5" text-anchor="start" font-weight="normal" font-style="normal" fill="#3a3a3a">(μM)</text>
<text x="35.90" y="293.84" font-size="6.5" text-anchor="end" font-weight="normal" font-style="normal" fill="#3a3a3a">CDCA</text>
<text x="44.60" y="293.84" font-size="6.5" text-anchor="middle" font-weight="normal" font-style="normal" fill="#3a3a3a">–</text>
<text x="65.40" y="293.84" font-size="6.5" text-anchor="middle" font-weight="normal" font-style="normal" fill="#3a3a3a">–</text>
<text x="85.50" y="293.84" font-size="6.5" text-anchor="middle" font-weight="normal" font-style="normal" fill="#3a3a3a">–</text>
<text x="106.30" y="293.84" font-size="6.5" text-anchor="middle" font-weight="normal" font-style="normal" fill="#3a3a3a">–</text>
<text x="127.00" y="293.84" font-size="6.5" text-anchor="middle" font-weight="normal" font-style="normal" fill="#3a3a3a">25</text>
<text x="147.80" y="293.84" font-size="6.5" text-anchor="middle" font-weight="normal" font-style="normal" fill="#3a3a3a">50</text>
<text x="157.50" y="293.84" font-size="6.5" text-anchor="start" font-weight="normal" font-style="normal" fill="#3a3a3a">(μM)</text>
<text transform="translate(186.50,170.40) scale(1.0,1)" x="0" y="0" font-size="11.8" font-weight="bold" fill="#0e0e0e">E</text>
<line x1="208.90" y1="203.30" x2="208.90" y2="266.00" stroke="#1e1e1e" stroke-width="1.35"/>
<line x1="205.70" y1="262.40" x2="208.90" y2="262.40" stroke="#1e1e1e" stroke-width="1.1"/>
<text transform="translate(202.00,264.88) scale(0.84,1)" x="0" y="0" font-size="6.9" text-anchor="end" font-weight="normal" font-style="normal" fill="#3a3a3a">0</text>
<line x1="205.70" y1="247.40" x2="208.90" y2="247.40" stroke="#1e1e1e" stroke-width="1.1"/>
<text transform="translate(202.00,249.88) scale(0.84,1)" x="0" y="0" font-size="6.9" text-anchor="end" font-weight="normal" font-style="normal" fill="#3a3a3a">3</text>
<line x1="205.70" y1="232.40" x2="208.90" y2="232.40" stroke="#1e1e1e" stroke-width="1.1"/>
<text transform="translate(202.00,234.88) scale(0.84,1)" x="0" y="0" font-size="6.9" text-anchor="end" font-weight="normal" font-style="normal" fill="#3a3a3a">6</text>
<line x1="205.70" y1="217.40" x2="208.90" y2="217.40" stroke="#1e1e1e" stroke-width="1.1"/>
<text transform="translate(202.00,219.88) scale(0.84,1)" x="0" y="0" font-size="6.9" text-anchor="end" font-weight="normal" font-style="normal" fill="#3a3a3a">9</text>
<rect x="216.15" y="240.90" width="13.90" height="21.50" fill="#7fa3c6"/>
<rect x="239.25" y="253.20" width="13.90" height="9.20" fill="#e58a9d"/>
<rect x="262.65" y="217.90" width="13.90" height="44.50" fill="#a2d39e"/>
<line x1="208.25" y1="265.40" x2="278.80" y2="265.40" stroke="#1e1e1e" stroke-width="1.35"/>
<line x1="223.10" y1="265.40" x2="223.10" y2="268.80" stroke="#1e1e1e" stroke-width="1.1"/>
<line x1="246.20" y1="265.40" x2="246.20" y2="268.80" stroke="#1e1e1e" stroke-width="1.1"/>
<line x1="269.60" y1="265.40" x2="269.60" y2="268.80" stroke="#1e1e1e" stroke-width="1.1"/>
<line x1="224.60" y1="236.80" x2="224.60" y2="244.80" stroke="#111" stroke-width="1.0"/>
<line x1="223.20" y1="236.80" x2="226.00" y2="236.80" stroke="#111" stroke-width="1.0"/>
<line x1="223.20" y1="244.80" x2="226.00" y2="244.80" stroke="#111" stroke-width="1.0"/>
<line x1="269.60" y1="211.40" x2="269.60" y2="224.40" stroke="#111" stroke-width="1.0"/>
<line x1="268.20" y1="211.40" x2="271.00" y2="211.40" stroke="#111" stroke-width="1.0"/>
<line x1="268.20" y1="224.40" x2="271.00" y2="224.40" stroke="#111" stroke-width="1.0"/>
<circle cx="221.60" cy="235.60" r="2.05" fill="#24507f" stroke="#0b1a2e" stroke-width="0.85"/>
<circle cx="224.20" cy="234.80" r="2.05" fill="#24507f" stroke="#0b1a2e" stroke-width="0.85"/>
<circle cx="223.00" cy="246.80" r="2.05" fill="#24507f" stroke="#0b1a2e" stroke-width="0.85"/>
<circle cx="225.00" cy="244.80" r="2.05" fill="#24507f" stroke="#0b1a2e" stroke-width="0.85"/>
<circle cx="243.60" cy="252.00" r="2.05" fill="#a01f45" stroke="#3a0716" stroke-width="0.85"/>
<circle cx="246.60" cy="251.20" r="2.05" fill="#a01f45" stroke="#3a0716" stroke-width="0.85"/>
<circle cx="244.60" cy="257.20" r="2.05" fill="#a01f45" stroke="#3a0716" stroke-width="0.85"/>
<circle cx="247.40" cy="253.60" r="2.05" fill="#a01f45" stroke="#3a0716" stroke-width="0.85"/>
<circle cx="268.20" cy="205.60" r="2.05" fill="#78c078" stroke="#1a5520" stroke-width="0.85"/>
<circle cx="268.40" cy="210.20" r="2.05" fill="#78c078" stroke="#1a5520" stroke-width="0.85"/>
<circle cx="268.60" cy="224.20" r="2.05" fill="#78c078" stroke="#1a5520" stroke-width="0.85"/>
<circle cx="270.20" cy="230.40" r="2.05" fill="#78c078" stroke="#1a5520" stroke-width="0.85"/>
<line x1="217.80" y1="230.50" x2="250.70" y2="230.50" stroke="#4c4c4c" stroke-width="1.3"/>
<circle cx="233.90" cy="227.10" r="1.05" fill="#2a2a2a"/>
<line x1="238.70" y1="201.50" x2="271.60" y2="201.50" stroke="#4c4c4c" stroke-width="1.3"/>
<circle cx="253.70" cy="198.30" r="1.05" fill="#2a2a2a"/>
<circle cx="256.30" cy="198.30" r="1.05" fill="#2a2a2a"/>
<text transform="translate(191.00,239.70) rotate(-90)" x="0" y="2.95" font-size="8.2" text-anchor="middle" font-weight="normal" font-style="italic" fill="#2e2e2e" stroke="#2e2e2e" stroke-width="0.22" textLength="18.90" lengthAdjust="spacingAndGlyphs">Nr0b2</text>
<text x="223.10" y="277.68" font-size="6.6" text-anchor="middle" font-weight="normal" font-style="normal" fill="#333">ND</text>
<text x="246.20" y="277.68" font-size="6.6" text-anchor="middle" font-weight="normal" font-style="normal" fill="#333">HFD</text>
<text x="269.60" y="277.68" font-size="6.6" text-anchor="middle" font-weight="normal" font-style="normal" fill="#333">HFD.LJN</text>
<text transform="translate(300.60,170.40) scale(0.9,1)" x="0" y="0" font-size="11.8" font-weight="bold" fill="#0e0e0e">F</text>
<line x1="322.40" y1="203.40" x2="322.40" y2="266.10" stroke="#1e1e1e" stroke-width="1.35"/>
<line x1="319.20" y1="262.70" x2="322.40" y2="262.70" stroke="#1e1e1e" stroke-width="1.1"/>
<text transform="translate(315.50,265.18) scale(0.84,1)" x="0" y="0" font-size="6.9" text-anchor="end" font-weight="normal" font-style="normal" fill="#3a3a3a">0</text>
<line x1="319.20" y1="248.72" x2="322.40" y2="248.72" stroke="#1e1e1e" stroke-width="1.1"/>
<text transform="translate(315.50,251.20) scale(0.84,1)" x="0" y="0" font-size="6.9" text-anchor="end" font-weight="normal" font-style="normal" fill="#3a3a3a">2</text>
<line x1="319.20" y1="234.74" x2="322.40" y2="234.74" stroke="#1e1e1e" stroke-width="1.1"/>
<text transform="translate(315.50,237.22) scale(0.84,1)" x="0" y="0" font-size="6.9" text-anchor="end" font-weight="normal" font-style="normal" fill="#3a3a3a">4</text>
<line x1="319.20" y1="220.76" x2="322.40" y2="220.76" stroke="#1e1e1e" stroke-width="1.1"/>
<text transform="translate(315.50,223.24) scale(0.84,1)" x="0" y="0" font-size="6.9" text-anchor="end" font-weight="normal" font-style="normal" fill="#3a3a3a">6</text>
<line x1="319.20" y1="206.78" x2="322.40" y2="206.78" stroke="#1e1e1e" stroke-width="1.1"/>
<text transform="translate(315.50,209.26) scale(0.84,1)" x="0" y="0" font-size="6.9" text-anchor="end" font-weight="normal" font-style="normal" fill="#3a3a3a">8</text>
<rect x="329.25" y="238.40" width="13.90" height="24.30" fill="#7fa3c6"/>
<rect x="352.35" y="249.60" width="13.90" height="13.10" fill="#e58a9d"/>
<rect x="376.15" y="215.80" width="13.90" height="46.90" fill="#a2d39e"/>
<line x1="321.75" y1="265.50" x2="392.50" y2="265.50" stroke="#1e1e1e" stroke-width="1.35"/>
<line x1="336.20" y1="265.50" x2="336.20" y2="268.90" stroke="#1e1e1e" stroke-width="1.1"/>
<line x1="359.30" y1="265.50" x2="359.30" y2="268.90" stroke="#1e1e1e" stroke-width="1.1"/>
<line x1="383.10" y1="265.50" x2="383.10" y2="268.90" stroke="#1e1e1e" stroke-width="1.1"/>
<line x1="337.00" y1="233.50" x2="337.00" y2="243.00" stroke="#111" stroke-width="1.0"/>
<line x1="335.60" y1="233.50" x2="338.40" y2="233.50" stroke="#111" stroke-width="1.0"/>
<line x1="335.60" y1="243.00" x2="338.40" y2="243.00" stroke="#111" stroke-width="1.0"/>
<line x1="383.10" y1="210.40" x2="383.10" y2="221.20" stroke="#111" stroke-width="1.0"/>
<line x1="381.70" y1="210.40" x2="384.50" y2="210.40" stroke="#111" stroke-width="1.0"/>
<line x1="381.70" y1="221.20" x2="384.50" y2="221.20" stroke="#111" stroke-width="1.0"/>
<circle cx="335.10" cy="232.70" r="2.05" fill="#24507f" stroke="#0b1a2e" stroke-width="0.85"/>
<circle cx="334.50" cy="235.30" r="2.05" fill="#24507f" stroke="#0b1a2e" stroke-width="0.85"/>
<circle cx="337.50" cy="238.00" r="2.05" fill="#24507f" stroke="#0b1a2e" stroke-width="0.85"/>
<circle cx="336.50" cy="239.60" r="2.05" fill="#24507f" stroke="#0b1a2e" stroke-width="0.85"/>
<circle cx="336.60" cy="246.20" r="2.05" fill="#24507f" stroke="#0b1a2e" stroke-width="0.85"/>
<circle cx="360.30" cy="245.00" r="2.05" fill="#a01f45" stroke="#3a0716" stroke-width="0.85"/>
<circle cx="356.60" cy="249.20" r="2.05" fill="#a01f45" stroke="#3a0716" stroke-width="0.85"/>
<circle cx="360.30" cy="250.10" r="2.05" fill="#a01f45" stroke="#3a0716" stroke-width="0.85"/>
<circle cx="360.80" cy="255.80" r="2.05" fill="#a01f45" stroke="#3a0716" stroke-width="0.85"/>
<circle cx="382.30" cy="205.50" r="2.05" fill="#78c078" stroke="#1a5520" stroke-width="0.85"/>
<circle cx="381.20" cy="211.90" r="2.05" fill="#78c078" stroke="#1a5520" stroke-width="0.85"/>
<circle cx="383.40" cy="214.70" r="2.05" fill="#78c078" stroke="#1a5520" stroke-width="0.85"/>
<circle cx="383.80" cy="231.20" r="2.05" fill="#78c078" stroke="#1a5520" stroke-width="0.85"/>
<line x1="330.50" y1="229.50" x2="364.60" y2="229.50" stroke="#4c4c4c" stroke-width="1.3"/>
<circle cx="347.70" cy="225.80" r="1.05" fill="#2a2a2a"/>
<line x1="352.30" y1="201.50" x2="386.50" y2="201.50" stroke="#4c4c4c" stroke-width="1.3"/>
<circle cx="367.60" cy="197.80" r="1.05" fill="#2a2a2a"/>
<circle cx="370.20" cy="197.80" r="1.05" fill="#2a2a2a"/>
<text transform="translate(303.70,232.80) rotate(-90)" x="0" y="2.95" font-size="8.2" text-anchor="middle" font-weight="normal" font-style="italic" fill="#2e2e2e" stroke="#2e2e2e" stroke-width="0.22" textLength="23.60" lengthAdjust="spacingAndGlyphs">Abcb11</text>
<text x="336.20" y="277.68" font-size="6.6" text-anchor="middle" font-weight="normal" font-style="normal" fill="#333">ND</text>
<text x="359.30" y="277.68" font-size="6.6" text-anchor="middle" font-weight="normal" font-style="normal" fill="#333">HFD</text>
<text x="383.10" y="277.68" font-size="6.6" text-anchor="middle" font-weight="normal" font-style="normal" fill="#333">HFD.LJN</text>
<text transform="translate(412.30,170.40) scale(1.0,1)" x="0" y="0" font-size="11.8" font-weight="bold" fill="#0e0e0e">G</text>
<line x1="438.60" y1="203.70" x2="438.60" y2="266.10" stroke="#1e1e1e" stroke-width="1.35"/>
<line x1="435.40" y1="262.80" x2="438.60" y2="262.80" stroke="#1e1e1e" stroke-width="1.1"/>
<text transform="translate(431.70,265.28) scale(0.84,1)" x="0" y="0" font-size="6.9" text-anchor="end" font-weight="normal" font-style="normal" fill="#3a3a3a">0</text>
<line x1="435.40" y1="235.50" x2="438.60" y2="235.50" stroke="#1e1e1e" stroke-width="1.1"/>
<text transform="translate(431.70,237.98) scale(0.84,1)" x="0" y="0" font-size="6.9" text-anchor="end" font-weight="normal" font-style="normal" fill="#3a3a3a">5</text>
<line x1="435.40" y1="208.20" x2="438.60" y2="208.20" stroke="#1e1e1e" stroke-width="1.1"/>
<text transform="translate(431.70,210.68) scale(0.84,1)" x="0" y="0" font-size="6.9" text-anchor="end" font-weight="normal" font-style="normal" fill="#3a3a3a">10</text>
<line x1="435.40" y1="249.15" x2="438.60" y2="249.15" stroke="#1e1e1e" stroke-width="1.1"/>
<line x1="435.40" y1="221.85" x2="438.60" y2="221.85" stroke="#1e1e1e" stroke-width="1.1"/>
<rect x="445.95" y="251.00" width="13.90" height="11.80" fill="#7fa3c6"/>
<rect x="469.05" y="222.10" width="13.90" height="40.70" fill="#e58a9d"/>
<rect x="492.25" y="247.80" width="13.90" height="15.00" fill="#a2d39e"/>
<line x1="437.95" y1="265.50" x2="508.00" y2="265.50" stroke="#1e1e1e" stroke-width="1.35"/>
<line x1="452.90" y1="265.50" x2="452.90" y2="268.90" stroke="#1e1e1e" stroke-width="1.1"/>
<line x1="476.00" y1="265.50" x2="476.00" y2="268.90" stroke="#1e1e1e" stroke-width="1.1"/>
<line x1="499.20" y1="265.50" x2="499.20" y2="268.90" stroke="#1e1e1e" stroke-width="1.1"/>
<line x1="476.40" y1="215.90" x2="476.40" y2="228.30" stroke="#111" stroke-width="1.0"/>
<line x1="475.00" y1="215.90" x2="477.80" y2="215.90" stroke="#111" stroke-width="1.0"/>
<line x1="475.00" y1="228.30" x2="477.80" y2="228.30" stroke="#111" stroke-width="1.0"/>
<line x1="499.50" y1="244.00" x2="499.50" y2="251.00" stroke="#111" stroke-width="1.0"/>
<line x1="498.10" y1="244.00" x2="500.90" y2="244.00" stroke="#111" stroke-width="1.0"/>
<line x1="498.10" y1="251.00" x2="500.90" y2="251.00" stroke="#111" stroke-width="1.0"/>
<circle cx="452.80" cy="245.60" r="2.05" fill="#24507f" stroke="#0b1a2e" stroke-width="0.85"/>
<circle cx="451.00" cy="249.60" r="2.05" fill="#24507f" stroke="#0b1a2e" stroke-width="0.85"/>
<circle cx="454.00" cy="250.60" r="2.05" fill="#24507f" stroke="#0b1a2e" stroke-width="0.85"/>
<circle cx="454.00" cy="256.60" r="2.05" fill="#24507f" stroke="#0b1a2e" stroke-width="0.85"/>
<circle cx="476.60" cy="206.40" r="2.05" fill="#a01f45" stroke="#3a0716" stroke-width="0.85"/>
<circle cx="476.20" cy="218.60" r="2.05" fill="#a01f45" stroke="#3a0716" stroke-width="0.85"/>
<circle cx="474.60" cy="227.20" r="2.05" fill="#a01f45" stroke="#3a0716" stroke-width="0.85"/>
<circle cx="476.20" cy="234.80" r="2.05" fill="#a01f45" stroke="#3a0716" stroke-width="0.85"/>
<circle cx="500.30" cy="241.00" r="2.05" fill="#78c078" stroke="#1a5520" stroke-width="0.85"/>
<circle cx="499.60" cy="245.60" r="2.05" fill="#78c078" stroke="#1a5520" stroke-width="0.85"/>
<circle cx="500.20" cy="248.40" r="2.05" fill="#78c078" stroke="#1a5520" stroke-width="0.85"/>
<circle cx="497.60" cy="253.60" r="2.05" fill="#78c078" stroke="#1a5520" stroke-width="0.85"/>
<line x1="447.40" y1="201.50" x2="480.80" y2="201.50" stroke="#4c4c4c" stroke-width="1.3"/>
<circle cx="464.20" cy="197.60" r="1.05" fill="#2a2a2a"/>
<line x1="468.30" y1="195.50" x2="502.00" y2="195.50" stroke="#4c4c4c" stroke-width="1.3"/>
<circle cx="485.10" cy="191.60" r="1.05" fill="#2a2a2a"/>
<text transform="translate(417.10,234.10) rotate(-90)" x="0" y="2.95" font-size="8.2" text-anchor="middle" font-weight="normal" font-style="italic" fill="#2e2e2e" stroke="#2e2e2e" stroke-width="0.22" textLength="27.20" lengthAdjust="spacingAndGlyphs">Serpine1</text>
<text x="452.90" y="277.68" font-size="6.6" text-anchor="middle" font-weight="normal" font-style="normal" fill="#333">ND</text>
<text x="476.00" y="277.68" font-size="6.6" text-anchor="middle" font-weight="normal" font-style="normal" fill="#333">HFD</text>
<text x="499.20" y="277.68" font-size="6.6" text-anchor="middle" font-weight="normal" font-style="normal" fill="#333">HFD.LJN</text>
<text transform="translate(8.30,321.30) scale(1.0,1)" x="0" y="0" font-size="11.8" font-weight="bold" fill="#0e0e0e">H</text>
<line x1="33.60" y1="332.30" x2="33.60" y2="396.00" stroke="#1e1e1e" stroke-width="1.35"/>
<line x1="30.40" y1="392.40" x2="33.60" y2="392.40" stroke="#1e1e1e" stroke-width="1.1"/>
<text transform="translate(26.70,394.88) scale(0.84,1)" x="0" y="0" font-size="6.9" text-anchor="end" font-weight="normal" font-style="normal" fill="#3a3a3a">0</text>
<line x1="30.40" y1="378.75" x2="33.60" y2="378.75" stroke="#1e1e1e" stroke-width="1.1"/>
<text transform="translate(26.70,381.23) scale(0.84,1)" x="0" y="0" font-size="6.9" text-anchor="end" font-weight="normal" font-style="normal" fill="#3a3a3a">10</text>
<line x1="30.40" y1="365.10" x2="33.60" y2="365.10" stroke="#1e1e1e" stroke-width="1.1"/>
<text transform="translate(26.70,367.58) scale(0.84,1)" x="0" y="0" font-size="6.9" text-anchor="end" font-weight="normal" font-style="normal" fill="#3a3a3a">20</text>
<line x1="30.40" y1="351.45" x2="33.60" y2="351.45" stroke="#1e1e1e" stroke-width="1.1"/>
<text transform="translate(26.70,353.93) scale(0.84,1)" x="0" y="0" font-size="6.9" text-anchor="end" font-weight="normal" font-style="normal" fill="#3a3a3a">30</text>
<line x1="30.40" y1="337.80" x2="33.60" y2="337.80" stroke="#1e1e1e" stroke-width="1.1"/>
<text transform="translate(26.70,340.28) scale(0.84,1)" x="0" y="0" font-size="6.9" text-anchor="end" font-weight="normal" font-style="normal" fill="#3a3a3a">40</text>
<rect x="41.10" y="371.30" width="13.80" height="21.10" fill="#7fa3c6"/>
<rect x="64.10" y="347.50" width="13.80" height="44.90" fill="#e58a9d"/>
<rect x="87.20" y="362.50" width="13.80" height="29.90" fill="#a2d39e"/>
<line x1="32.95" y1="395.40" x2="101.50" y2="395.40" stroke="#1e1e1e" stroke-width="1.35"/>
<line x1="48.00" y1="395.40" x2="48.00" y2="398.80" stroke="#1e1e1e" stroke-width="1.1"/>
<line x1="71.00" y1="395.40" x2="71.00" y2="398.80" stroke="#1e1e1e" stroke-width="1.1"/>
<line x1="94.10" y1="395.40" x2="94.10" y2="398.80" stroke="#1e1e1e" stroke-width="1.1"/>
<line x1="71.60" y1="344.60" x2="71.60" y2="352.00" stroke="#111" stroke-width="1.0"/>
<line x1="70.20" y1="344.60" x2="73.00" y2="344.60" stroke="#111" stroke-width="1.0"/>
<line x1="70.20" y1="352.00" x2="73.00" y2="352.00" stroke="#111" stroke-width="1.0"/>
<line x1="94.20" y1="357.80" x2="94.20" y2="366.00" stroke="#111" stroke-width="1.0"/>
<line x1="92.80" y1="357.80" x2="95.60" y2="357.80" stroke="#111" stroke-width="1.0"/>
<line x1="92.80" y1="366.00" x2="95.60" y2="366.00" stroke="#111" stroke-width="1.0"/>
<circle cx="45.60" cy="366.60" r="2.05" fill="#24507f" stroke="#0b1a2e" stroke-width="0.85"/>
<circle cx="48.60" cy="366.20" r="2.05" fill="#24507f" stroke="#0b1a2e" stroke-width="0.85"/>
<circle cx="48.00" cy="371.20" r="2.05" fill="#24507f" stroke="#0b1a2e" stroke-width="0.85"/>
<circle cx="47.00" cy="376.00" r="2.05" fill="#24507f" stroke="#0b1a2e" stroke-width="0.85"/>
<circle cx="72.00" cy="334.80" r="2.05" fill="#a01f45" stroke="#3a0716" stroke-width="0.85"/>
<circle cx="71.00" cy="344.40" r="2.05" fill="#a01f45" stroke="#3a0716" stroke-width="0.85"/>
<circle cx="70.20" cy="355.00" r="2.05" fill="#a01f45" stroke="#3a0716" stroke-width="0.85"/>
<circle cx="71.80" cy="356.40" r="2.05" fill="#a01f45" stroke="#3a0716" stroke-width="0.85"/>
<circle cx="70.40" cy="358.80" r="2.05" fill="#a01f45" stroke="#3a0716" stroke-width="0.85"/>
<circle cx="94.60" cy="356.00" r="2.05" fill="#78c078" stroke="#1a5520" stroke-width="0.85"/>
<circle cx="95.60" cy="358.40" r="2.05" fill="#78c078" stroke="#1a5520" stroke-width="0.85"/>
<circle cx="93.60" cy="365.00" r="2.05" fill="#78c078" stroke="#1a5520" stroke-width="0.85"/>
<circle cx="92.60" cy="369.60" r="2.05" fill="#78c078" stroke="#1a5520" stroke-width="0.85"/>
<line x1="39.50" y1="332.50" x2="73.00" y2="332.50" stroke="#4c4c4c" stroke-width="1.3"/>
<circle cx="56.30" cy="328.60" r="1.05" fill="#2a2a2a"/>
<line x1="63.80" y1="326.50" x2="96.30" y2="326.50" stroke="#4c4c4c" stroke-width="1.3"/>
<circle cx="80.00" cy="322.90" r="1.05" fill="#2a2a2a"/>
<text transform="translate(11.40,363.20) rotate(-90)" x="0" y="2.95" font-size="8.2" text-anchor="middle" font-weight="normal" font-style="normal" fill="#2e2e2e" stroke="#2e2e2e" stroke-width="0.22" textLength="63.00" lengthAdjust="spacingAndGlyphs">Plasm  PAI1 (ng/mL)</text>
<text x="48.00" y="407.58" font-size="6.6" text-anchor="middle" font-weight="normal" font-style="normal" fill="#333">ND</text>
<text x="71.00" y="407.58" font-size="6.6" text-anchor="middle" font-weight="normal" font-style="normal" fill="#333">HFD</text>
<text x="94.10" y="407.58" font-size="6.6" text-anchor="middle" font-weight="normal" font-style="normal" fill="#333">HFD.LJN</text>
<text transform="translate(274.20,321.20) scale(1.0,1)" x="0" y="0" font-size="11.8" font-weight="bold" fill="#0e0e0e">J</text>
<line x1="302.50" y1="331.50" x2="302.50" y2="396.00" stroke="#1e1e1e" stroke-width="1.35"/>
<line x1="299.30" y1="392.20" x2="302.50" y2="392.20" stroke="#1e1e1e" stroke-width="1.1"/>
<text transform="translate(295.60,394.68) scale(0.84,1)" x="0" y="0" font-size="6.9" text-anchor="end" font-weight="normal" font-style="normal" fill="#3a3a3a">0</text>
<line x1="299.30" y1="377.77" x2="302.50" y2="377.77" stroke="#1e1e1e" stroke-width="1.1"/>
<text transform="translate(295.60,380.26) scale(0.84,1)" x="0" y="0" font-size="6.9" text-anchor="end" font-weight="normal" font-style="normal" fill="#3a3a3a">50</text>
<line x1="299.30" y1="363.35" x2="302.50" y2="363.35" stroke="#1e1e1e" stroke-width="1.1"/>
<text transform="translate(295.60,365.83) scale(0.84,1)" x="0" y="0" font-size="6.9" text-anchor="end" font-weight="normal" font-style="normal" fill="#3a3a3a">100</text>
<line x1="299.30" y1="348.93" x2="302.50" y2="348.93" stroke="#1e1e1e" stroke-width="1.1"/>
<text transform="translate(295.60,351.41) scale(0.84,1)" x="0" y="0" font-size="6.9" text-anchor="end" font-weight="normal" font-style="normal" fill="#3a3a3a">150</text>
<line x1="299.30" y1="334.50" x2="302.50" y2="334.50" stroke="#1e1e1e" stroke-width="1.1"/>
<text transform="translate(295.60,336.98) scale(0.84,1)" x="0" y="0" font-size="6.9" text-anchor="end" font-weight="normal" font-style="normal" fill="#3a3a3a">200</text>
<rect x="309.90" y="349.60" width="13.40" height="42.60" fill="#7fa3c6"/>
<rect x="332.90" y="364.20" width="13.40" height="28.00" fill="#e58a9d"/>
<rect x="356.00" y="355.40" width="13.40" height="36.80" fill="#a2d39e"/>
<line x1="301.85" y1="395.40" x2="372.00" y2="395.40" stroke="#1e1e1e" stroke-width="1.35"/>
<line x1="316.60" y1="395.40" x2="316.60" y2="398.80" stroke="#1e1e1e" stroke-width="1.1"/>
<line x1="339.60" y1="395.40" x2="339.60" y2="398.80" stroke="#1e1e1e" stroke-width="1.1"/>
<line x1="362.70" y1="395.40" x2="362.70" y2="398.80" stroke="#1e1e1e" stroke-width="1.1"/>
<line x1="316.50" y1="345.00" x2="316.50" y2="354.00" stroke="#111" stroke-width="1.0"/>
<line x1="315.10" y1="345.00" x2="317.90" y2="345.00" stroke="#111" stroke-width="1.0"/>
<line x1="315.10" y1="354.00" x2="317.90" y2="354.00" stroke="#111" stroke-width="1.0"/>
<line x1="339.60" y1="360.00" x2="339.60" y2="368.00" stroke="#111" stroke-width="1.0"/>
<line x1="338.20" y1="360.00" x2="341.00" y2="360.00" stroke="#111" stroke-width="1.0"/>
<line x1="338.20" y1="368.00" x2="341.00" y2="368.00" stroke="#111" stroke-width="1.0"/>
<line x1="362.70" y1="351.50" x2="362.70" y2="359.00" stroke="#111" stroke-width="1.0"/>
<line x1="361.30" y1="351.50" x2="364.10" y2="351.50" stroke="#111" stroke-width="1.0"/>
<line x1="361.30" y1="359.00" x2="364.10" y2="359.00" stroke="#111" stroke-width="1.0"/>
<circle cx="314.20" cy="336.40" r="2.05" fill="#24507f" stroke="#0b1a2e" stroke-width="0.85"/>
<circle cx="314.60" cy="340.60" r="2.05" fill="#24507f" stroke="#0b1a2e" stroke-width="0.85"/>
<circle cx="316.60" cy="343.20" r="2.05" fill="#24507f" stroke="#0b1a2e" stroke-width="0.85"/>
<circle cx="314.40" cy="345.60" r="2.05" fill="#24507f" stroke="#0b1a2e" stroke-width="0.85"/>
<circle cx="316.20" cy="347.40" r="2.05" fill="#24507f" stroke="#0b1a2e" stroke-width="0.85"/>
<circle cx="314.20" cy="350.00" r="2.05" fill="#24507f" stroke="#0b1a2e" stroke-width="0.85"/>
<circle cx="316.60" cy="352.60" r="2.05" fill="#24507f" stroke="#0b1a2e" stroke-width="0.85"/>
<circle cx="315.20" cy="357.60" r="2.05" fill="#24507f" stroke="#0b1a2e" stroke-width="0.85"/>
<circle cx="317.20" cy="359.80" r="2.05" fill="#24507f" stroke="#0b1a2e" stroke-width="0.85"/>
<circle cx="316.00" cy="362.60" r="2.05" fill="#24507f" stroke="#0b1a2e" stroke-width="0.85"/>
<circle cx="314.20" cy="366.80" r="2.05" fill="#24507f" stroke="#0b1a2e" stroke-width="0.85"/>
<circle cx="338.00" cy="351.80" r="2.05" fill="#a01f45" stroke="#3a0716" stroke-width="0.85"/>
<circle cx="340.60" cy="353.00" r="2.05" fill="#a01f45" stroke="#3a0716" stroke-width="0.85"/>
<circle cx="338.20" cy="357.80" r="2.05" fill="#a01f45" stroke="#3a0716" stroke-width="0.85"/>
<circle cx="340.00" cy="361.40" r="2.05" fill="#a01f45" stroke="#3a0716" stroke-width="0.85"/>
<circle cx="341.60" cy="363.00" r="2.05" fill="#a01f45" stroke="#3a0716" stroke-width="0.85"/>
<circle cx="339.60" cy="366.60" r="2.05" fill="#a01f45" stroke="#3a0716" stroke-width="0.85"/>
<circle cx="337.80" cy="369.40" r="2.05" fill="#a01f45" stroke="#3a0716" stroke-width="0.85"/>
<circle cx="341.00" cy="374.40" r="2.05" fill="#a01f45" stroke="#3a0716" stroke-width="0.85"/>
<circle cx="339.40" cy="377.40" r="2.05" fill="#a01f45" stroke="#3a0716" stroke-width="0.85"/>
<circle cx="362.80" cy="344.20" r="2.05" fill="#78c078" stroke="#1a5520" stroke-width="0.85"/>
<circle cx="363.40" cy="347.20" r="2.05" fill="#78c078" stroke="#1a5520" stroke-width="0.85"/>
<circle cx="361.60" cy="350.80" r="2.05" fill="#78c078" stroke="#1a5520" stroke-width="0.85"/>
<circle cx="362.60" cy="355.00" r="2.05" fill="#78c078" stroke="#1a5520" stroke-width="0.85"/>
<circle cx="364.80" cy="355.40" r="2.05" fill="#78c078" stroke="#1a5520" stroke-width="0.85"/>
<circle cx="361.40" cy="359.40" r="2.05" fill="#78c078" stroke="#1a5520" stroke-width="0.85"/>
<circle cx="362.00" cy="364.00" r="2.05" fill="#78c078" stroke="#1a5520" stroke-width="0.85"/>
<circle cx="363.00" cy="365.20" r="2.05" fill="#78c078" stroke="#1a5520" stroke-width="0.85"/>
<line x1="311.90" y1="331.50" x2="345.40" y2="331.50" stroke="#4c4c4c" stroke-width="1.3"/>
<circle cx="327.50" cy="327.80" r="1.05" fill="#2a2a2a"/>
<circle cx="330.10" cy="327.80" r="1.05" fill="#2a2a2a"/>
<line x1="335.00" y1="325.50" x2="368.50" y2="325.50" stroke="#4c4c4c" stroke-width="1.3"/>
<circle cx="351.80" cy="322.40" r="1.05" fill="#2a2a2a"/>
<text transform="translate(277.10,361.00) rotate(-90)" x="0" y="2.95" font-size="8.2" text-anchor="middle" font-weight="normal" font-style="normal" fill="#2e2e2e" stroke="#2e2e2e" stroke-width="0.22" textLength="14.70" lengthAdjust="spacingAndGlyphs">BT(s)</text>
<text x="316.60" y="407.58" font-size="6.6" text-anchor="middle" font-weight="normal" font-style="normal" fill="#333">ND</text>
<text x="339.60" y="407.58" font-size="6.6" text-anchor="middle" font-weight="normal" font-style="normal" fill="#333">HFD</text>
<text x="362.70" y="407.58" font-size="6.6" text-anchor="middle" font-weight="normal" font-style="normal" fill="#333">HFD.LJN</text>
<text transform="translate(9.50,434.50) scale(0.8,1)" x="0" y="0" font-size="11.8" font-weight="bold" fill="#0e0e0e">L</text>
<line x1="33.60" y1="452.30" x2="33.60" y2="516.00" stroke="#1e1e1e" stroke-width="1.35"/>
<line x1="30.40" y1="511.90" x2="33.60" y2="511.90" stroke="#1e1e1e" stroke-width="1.1"/>
<text transform="translate(26.70,514.38) scale(0.84,1)" x="0" y="0" font-size="6.9" text-anchor="end" font-weight="normal" font-style="normal" fill="#3a3a3a">0</text>
<line x1="30.40" y1="497.52" x2="33.60" y2="497.52" stroke="#1e1e1e" stroke-width="1.1"/>
<text transform="translate(26.70,500.01) scale(0.84,1)" x="0" y="0" font-size="6.9" text-anchor="end" font-weight="normal" font-style="normal" fill="#3a3a3a">5</text>
<line x1="30.40" y1="483.15" x2="33.60" y2="483.15" stroke="#1e1e1e" stroke-width="1.1"/>
<text transform="translate(26.70,485.63) scale(0.84,1)" x="0" y="0" font-size="6.9" text-anchor="end" font-weight="normal" font-style="normal" fill="#3a3a3a">10</text>
<line x1="30.40" y1="468.77" x2="33.60" y2="468.77" stroke="#1e1e1e" stroke-width="1.1"/>
<text transform="translate(26.70,471.26) scale(0.84,1)" x="0" y="0" font-size="6.9" text-anchor="end" font-weight="normal" font-style="normal" fill="#3a3a3a">15</text>
<line x1="30.40" y1="454.40" x2="33.60" y2="454.40" stroke="#1e1e1e" stroke-width="1.1"/>
<text transform="translate(26.70,456.88) scale(0.84,1)" x="0" y="0" font-size="6.9" text-anchor="end" font-weight="normal" font-style="normal" fill="#3a3a3a">20</text>
<rect x="41.30" y="496.00" width="13.80" height="15.90" fill="#7fa3c6"/>
<rect x="65.10" y="471.00" width="13.80" height="40.90" fill="#e58a9d"/>
<rect x="88.80" y="493.10" width="13.80" height="18.80" fill="#a2d39e"/>
<line x1="32.95" y1="515.40" x2="105.00" y2="515.40" stroke="#1e1e1e" stroke-width="1.35"/>
<line x1="48.20" y1="515.40" x2="48.20" y2="518.80" stroke="#1e1e1e" stroke-width="1.1"/>
<line x1="72.00" y1="515.40" x2="72.00" y2="518.80" stroke="#1e1e1e" stroke-width="1.1"/>
<line x1="95.70" y1="515.40" x2="95.70" y2="518.80" stroke="#1e1e1e" stroke-width="1.1"/>
<line x1="48.50" y1="490.00" x2="48.50" y2="501.30" stroke="#111" stroke-width="1.0"/>
<line x1="47.10" y1="490.00" x2="49.90" y2="490.00" stroke="#111" stroke-width="1.0"/>
<line x1="47.10" y1="501.30" x2="49.90" y2="501.30" stroke="#111" stroke-width="1.0"/>
<line x1="72.00" y1="466.20" x2="72.00" y2="475.00" stroke="#111" stroke-width="1.0"/>
<line x1="70.60" y1="466.20" x2="73.40" y2="466.20" stroke="#111" stroke-width="1.0"/>
<line x1="70.60" y1="475.00" x2="73.40" y2="475.00" stroke="#111" stroke-width="1.0"/>
<line x1="95.00" y1="486.90" x2="95.00" y2="498.00" stroke="#111" stroke-width="1.0"/>
<line x1="93.60" y1="486.90" x2="96.40" y2="486.90" stroke="#111" stroke-width="1.0"/>
<line x1="93.60" y1="498.00" x2="96.40" y2="498.00" stroke="#111" stroke-width="1.0"/>
<circle cx="46.90" cy="477.30" r="2.05" fill="#24507f" stroke="#0b1a2e" stroke-width="0.85"/>
<circle cx="47.50" cy="487.50" r="2.05" fill="#24507f" stroke="#0b1a2e" stroke-width="0.85"/>
<circle cx="47.50" cy="497.30" r="2.05" fill="#24507f" stroke="#0b1a2e" stroke-width="0.85"/>
<circle cx="48.00" cy="506.90" r="2.05" fill="#24507f" stroke="#0b1a2e" stroke-width="0.85"/>
<circle cx="48.80" cy="509.80" r="2.05" fill="#24507f" stroke="#0b1a2e" stroke-width="0.85"/>
<circle cx="73.50" cy="455.00" r="2.05" fill="#a01f45" stroke="#3a0716" stroke-width="0.85"/>
<circle cx="70.00" cy="466.00" r="2.05" fill="#a01f45" stroke="#3a0716" stroke-width="0.85"/>
<circle cx="70.50" cy="472.30" r="2.05" fill="#a01f45" stroke="#3a0716" stroke-width="0.85"/>
<circle cx="70.30" cy="478.80" r="2.05" fill="#a01f45" stroke="#3a0716" stroke-width="0.85"/>
<circle cx="73.50" cy="482.80" r="2.05" fill="#a01f45" stroke="#3a0716" stroke-width="0.85"/>
<circle cx="95.30" cy="476.50" r="2.05" fill="#78c078" stroke="#1a5520" stroke-width="0.85"/>
<circle cx="97.80" cy="486.50" r="2.05" fill="#78c078" stroke="#1a5520" stroke-width="0.85"/>
<circle cx="93.80" cy="491.30" r="2.05" fill="#78c078" stroke="#1a5520" stroke-width="0.85"/>
<circle cx="95.50" cy="502.80" r="2.05" fill="#78c078" stroke="#1a5520" stroke-width="0.85"/>
<circle cx="95.50" cy="507.90" r="2.05" fill="#78c078" stroke="#1a5520" stroke-width="0.85"/>
<line x1="41.30" y1="448.50" x2="74.50" y2="448.50" stroke="#4c4c4c" stroke-width="1.3"/>
<circle cx="57.50" cy="445.40" r="1.05" fill="#2a2a2a"/>
<line x1="65.50" y1="442.50" x2="99.50" y2="442.50" stroke="#4c4c4c" stroke-width="1.3"/>
<circle cx="83.80" cy="439.10" r="1.05" fill="#2a2a2a"/>
<text transform="translate(12.60,481.00) rotate(-90)" x="0" y="2.95" font-size="8.2" text-anchor="middle" font-weight="normal" font-style="normal" fill="#2e2e2e" stroke="#2e2e2e" stroke-width="0.22" textLength="70.70" lengthAdjust="spacingAndGlyphs">Thrombus weight (mg)</text>
<text x="48.20" y="527.48" font-size="6.6" text-anchor="middle" font-weight="normal" font-style="normal" fill="#333">ND</text>
<text x="72.00" y="527.48" font-size="6.6" text-anchor="middle" font-weight="normal" font-style="normal" fill="#333">HFD</text>
<text x="95.70" y="527.48" font-size="6.6" text-anchor="middle" font-weight="normal" font-style="normal" fill="#333">HFD.LJN</text>
<text transform="translate(125.50,434.50) scale(1.16,1)" x="0" y="0" font-size="11.8" font-weight="bold" fill="#0e0e0e">M</text>
<line x1="154.40" y1="452.10" x2="154.40" y2="516.00" stroke="#1e1e1e" stroke-width="1.35"/>
<line x1="151.20" y1="512.20" x2="154.40" y2="512.20" stroke="#1e1e1e" stroke-width="1.1"/>
<text transform="translate(147.50,514.68) scale(0.84,1)" x="0" y="0" font-size="6.9" text-anchor="end" font-weight="normal" font-style="normal" fill="#3a3a3a">0</text>
<line x1="151.20" y1="496.13" x2="154.40" y2="496.13" stroke="#1e1e1e" stroke-width="1.1"/>
<text transform="translate(147.50,498.61) scale(0.84,1)" x="0" y="0" font-size="6.9" text-anchor="end" font-weight="normal" font-style="normal" fill="#3a3a3a">2.5</text>
<line x1="151.20" y1="480.05" x2="154.40" y2="480.05" stroke="#1e1e1e" stroke-width="1.1"/>
<text transform="translate(147.50,482.53) scale(0.84,1)" x="0" y="0" font-size="6.9" text-anchor="end" font-weight="normal" font-style="normal" fill="#3a3a3a">5.0</text>
<line x1="151.20" y1="463.98" x2="154.40" y2="463.98" stroke="#1e1e1e" stroke-width="1.1"/>
<text transform="translate(147.50,466.46) scale(0.84,1)" x="0" y="0" font-size="6.9" text-anchor="end" font-weight="normal" font-style="normal" fill="#3a3a3a">7.5</text>
<rect x="161.45" y="496.30" width="13.90" height="15.90" fill="#7fa3c6"/>
<rect x="184.95" y="473.00" width="13.90" height="39.20" fill="#e58a9d"/>
<rect x="208.05" y="493.80" width="13.90" height="18.40" fill="#a2d39e"/>
<line x1="153.75" y1="515.40" x2="223.80" y2="515.40" stroke="#1e1e1e" stroke-width="1.35"/>
<line x1="168.40" y1="515.40" x2="168.40" y2="518.80" stroke="#1e1e1e" stroke-width="1.1"/>
<line x1="191.90" y1="515.40" x2="191.90" y2="518.80" stroke="#1e1e1e" stroke-width="1.1"/>
<line x1="215.00" y1="515.40" x2="215.00" y2="518.80" stroke="#1e1e1e" stroke-width="1.1"/>
<line x1="168.40" y1="490.00" x2="168.40" y2="503.00" stroke="#111" stroke-width="1.0"/>
<line x1="167.00" y1="490.00" x2="169.80" y2="490.00" stroke="#111" stroke-width="1.0"/>
<line x1="167.00" y1="503.00" x2="169.80" y2="503.00" stroke="#111" stroke-width="1.0"/>
<line x1="191.90" y1="468.60" x2="191.90" y2="478.00" stroke="#111" stroke-width="1.0"/>
<line x1="190.50" y1="468.60" x2="193.30" y2="468.60" stroke="#111" stroke-width="1.0"/>
<line x1="190.50" y1="478.00" x2="193.30" y2="478.00" stroke="#111" stroke-width="1.0"/>
<line x1="215.00" y1="485.60" x2="215.00" y2="501.00" stroke="#111" stroke-width="1.0"/>
<line x1="213.60" y1="485.60" x2="216.40" y2="485.60" stroke="#111" stroke-width="1.0"/>
<line x1="213.60" y1="501.00" x2="216.40" y2="501.00" stroke="#111" stroke-width="1.0"/>
<circle cx="168.40" cy="476.60" r="2.05" fill="#24507f" stroke="#0b1a2e" stroke-width="0.85"/>
<circle cx="169.80" cy="489.20" r="2.05" fill="#24507f" stroke="#0b1a2e" stroke-width="0.85"/>
<circle cx="168.00" cy="497.00" r="2.05" fill="#24507f" stroke="#0b1a2e" stroke-width="0.85"/>
<circle cx="168.60" cy="505.00" r="2.05" fill="#24507f" stroke="#0b1a2e" stroke-width="0.85"/>
<circle cx="169.40" cy="509.60" r="2.05" fill="#24507f" stroke="#0b1a2e" stroke-width="0.85"/>
<circle cx="191.60" cy="454.80" r="2.05" fill="#a01f45" stroke="#3a0716" stroke-width="0.85"/>
<circle cx="190.80" cy="467.40" r="2.05" fill="#a01f45" stroke="#3a0716" stroke-width="0.85"/>
<circle cx="190.40" cy="472.40" r="2.05" fill="#a01f45" stroke="#3a0716" stroke-width="0.85"/>
<circle cx="191.80" cy="479.20" r="2.05" fill="#a01f45" stroke="#3a0716" stroke-width="0.85"/>
<circle cx="192.20" cy="486.20" r="2.05" fill="#a01f45" stroke="#3a0716" stroke-width="0.85"/>
<circle cx="214.20" cy="477.00" r="2.05" fill="#78c078" stroke="#1a5520" stroke-width="0.85"/>
<circle cx="216.60" cy="486.20" r="2.05" fill="#78c078" stroke="#1a5520" stroke-width="0.85"/>
<circle cx="214.60" cy="490.60" r="2.05" fill="#78c078" stroke="#1a5520" stroke-width="0.85"/>
<circle cx="215.00" cy="501.00" r="2.05" fill="#78c078" stroke="#1a5520" stroke-width="0.85"/>
<circle cx="215.00" cy="509.00" r="2.05" fill="#78c078" stroke="#1a5520" stroke-width="0.85"/>
<line x1="161.30" y1="448.50" x2="194.50" y2="448.50" stroke="#4c4c4c" stroke-width="1.3"/>
<circle cx="178.00" cy="445.40" r="1.05" fill="#2a2a2a"/>
<line x1="185.50" y1="442.50" x2="218.00" y2="442.50" stroke="#4c4c4c" stroke-width="1.3"/>
<circle cx="201.30" cy="439.10" r="1.05" fill="#2a2a2a"/>
<text transform="translate(131.10,483.60) rotate(-90)" x="0" y="2.95" font-size="8.2" text-anchor="middle" font-weight="normal" font-style="normal" fill="#2e2e2e" stroke="#2e2e2e" stroke-width="0.22" textLength="72.00" lengthAdjust="spacingAndGlyphs">Thrombus length (mm)</text>
<text x="168.40" y="527.48" font-size="6.6" text-anchor="middle" font-weight="normal" font-style="normal" fill="#333">ND</text>
<text x="191.90" y="527.48" font-size="6.6" text-anchor="middle" font-weight="normal" font-style="normal" fill="#333">HFD</text>
<text x="215.00" y="527.48" font-size="6.6" text-anchor="middle" font-weight="normal" font-style="normal" fill="#333">HFD.LJN</text>
<text transform="translate(365.30,434.80) scale(1.0,1)" x="0" y="0" font-size="11.8" font-weight="bold" fill="#0e0e0e">O</text>
<line x1="393.60" y1="453.20" x2="393.60" y2="515.90" stroke="#1e1e1e" stroke-width="1.35"/>
<line x1="390.40" y1="512.40" x2="393.60" y2="512.40" stroke="#1e1e1e" stroke-width="1.1"/>
<text transform="translate(386.70,514.88) scale(0.84,1)" x="0" y="0" font-size="6.9" text-anchor="end" font-weight="normal" font-style="normal" fill="#3a3a3a">0.0</text>
<line x1="390.40" y1="485.15" x2="393.60" y2="485.15" stroke="#1e1e1e" stroke-width="1.1"/>
<text transform="translate(386.70,487.63) scale(0.84,1)" x="0" y="0" font-size="6.9" text-anchor="end" font-weight="normal" font-style="normal" fill="#3a3a3a">0.5</text>
<line x1="390.40" y1="457.90" x2="393.60" y2="457.90" stroke="#1e1e1e" stroke-width="1.1"/>
<text transform="translate(386.70,460.38) scale(0.84,1)" x="0" y="0" font-size="6.9" text-anchor="end" font-weight="normal" font-style="normal" fill="#3a3a3a">1.0</text>
<line x1="390.40" y1="498.77" x2="393.60" y2="498.77" stroke="#1e1e1e" stroke-width="1.1"/>
<line x1="390.40" y1="471.52" x2="393.60" y2="471.52" stroke="#1e1e1e" stroke-width="1.1"/>
<rect x="401.00" y="464.50" width="14.00" height="47.90" fill="#7fa3c6"/>
<rect x="424.00" y="469.70" width="14.00" height="42.70" fill="#e58a9d"/>
<rect x="447.40" y="469.70" width="14.00" height="42.70" fill="#a2d39e"/>
<line x1="392.95" y1="515.30" x2="463.40" y2="515.30" stroke="#1e1e1e" stroke-width="1.35"/>
<line x1="408.00" y1="515.30" x2="408.00" y2="518.70" stroke="#1e1e1e" stroke-width="1.1"/>
<line x1="431.00" y1="515.30" x2="431.00" y2="518.70" stroke="#1e1e1e" stroke-width="1.1"/>
<line x1="454.40" y1="515.30" x2="454.40" y2="518.70" stroke="#1e1e1e" stroke-width="1.1"/>
<line x1="408.00" y1="459.00" x2="408.00" y2="470.00" stroke="#111" stroke-width="1.0"/>
<line x1="406.60" y1="459.00" x2="409.40" y2="459.00" stroke="#111" stroke-width="1.0"/>
<line x1="406.60" y1="470.00" x2="409.40" y2="470.00" stroke="#111" stroke-width="1.0"/>
<line x1="431.00" y1="465.00" x2="431.00" y2="474.60" stroke="#111" stroke-width="1.0"/>
<line x1="429.60" y1="465.00" x2="432.40" y2="465.00" stroke="#111" stroke-width="1.0"/>
<line x1="429.60" y1="474.60" x2="432.40" y2="474.60" stroke="#111" stroke-width="1.0"/>
<line x1="454.40" y1="465.00" x2="454.40" y2="474.40" stroke="#111" stroke-width="1.0"/>
<line x1="453.00" y1="465.00" x2="455.80" y2="465.00" stroke="#111" stroke-width="1.0"/>
<line x1="453.00" y1="474.40" x2="455.80" y2="474.40" stroke="#111" stroke-width="1.0"/>
<circle cx="407.20" cy="457.80" r="2.05" fill="#24507f" stroke="#0b1a2e" stroke-width="0.85"/>
<circle cx="409.40" cy="460.40" r="2.05" fill="#24507f" stroke="#0b1a2e" stroke-width="0.85"/>
<circle cx="408.40" cy="468.00" r="2.05" fill="#24507f" stroke="#0b1a2e" stroke-width="0.85"/>
<circle cx="408.80" cy="471.80" r="2.05" fill="#24507f" stroke="#0b1a2e" stroke-width="0.85"/>
<circle cx="431.40" cy="457.40" r="2.05" fill="#a01f45" stroke="#3a0716" stroke-width="0.85"/>
<circle cx="431.80" cy="468.00" r="2.05" fill="#a01f45" stroke="#3a0716" stroke-width="0.85"/>
<circle cx="430.40" cy="474.60" r="2.05" fill="#a01f45" stroke="#3a0716" stroke-width="0.85"/>
<circle cx="432.60" cy="475.60" r="2.05" fill="#a01f45" stroke="#3a0716" stroke-width="0.85"/>
<circle cx="454.60" cy="456.00" r="2.05" fill="#78c078" stroke="#1a5520" stroke-width="0.85"/>
<circle cx="454.20" cy="471.40" r="2.05" fill="#78c078" stroke="#1a5520" stroke-width="0.85"/>
<circle cx="453.00" cy="474.60" r="2.05" fill="#78c078" stroke="#1a5520" stroke-width="0.85"/>
<circle cx="455.40" cy="472.60" r="2.05" fill="#78c078" stroke="#1a5520" stroke-width="0.85"/>
<line x1="401.90" y1="452.50" x2="435.60" y2="452.50" stroke="#4c4c4c" stroke-width="1.3"/>
<text x="418.70" y="451.14" font-size="6.5" text-anchor="middle" font-weight="normal" font-style="normal" fill="#333">n.s.</text>
<line x1="423.40" y1="445.50" x2="456.40" y2="445.50" stroke="#4c4c4c" stroke-width="1.3"/>
<text x="440.00" y="444.14" font-size="6.5" text-anchor="middle" font-weight="normal" font-style="normal" fill="#333">n.s.</text>
<text transform="translate(369.90,483.40) rotate(-90)" x="0" y="2.95" font-size="8.2" text-anchor="middle" font-weight="normal" font-style="normal" fill="#2e2e2e" stroke="#2e2e2e" stroke-width="0.22" textLength="37.30" lengthAdjust="spacingAndGlyphs">Onset (min)</text>
<text x="408.00" y="527.08" font-size="6.6" text-anchor="middle" font-weight="normal" font-style="normal" fill="#333">ND</text>
<text x="431.00" y="527.08" font-size="6.6" text-anchor="middle" font-weight="normal" font-style="normal" fill="#333">HFD</text>
<text x="454.40" y="527.08" font-size="6.6" text-anchor="middle" font-weight="normal" font-style="normal" fill="#333">HFD.LJN</text>
<text transform="translate(8.80,568.80) scale(0.9,1)" x="0" y="0" font-size="11.8" font-weight="bold" fill="#0e0e0e">P</text>
<line x1="39.30" y1="583.90" x2="39.30" y2="646.70" stroke="#1e1e1e" stroke-width="1.35"/>
<line x1="36.10" y1="643.30" x2="39.30" y2="643.30" stroke="#1e1e1e" stroke-width="1.1"/>
<text transform="translate(32.40,645.78) scale(0.84,1)" x="0" y="0" font-size="6.9" text-anchor="end" font-weight="normal" font-style="normal" fill="#3a3a3a">0.00</text>
<line x1="36.10" y1="616.30" x2="39.30" y2="616.30" stroke="#1e1e1e" stroke-width="1.1"/>
<text transform="translate(32.40,618.78) scale(0.84,1)" x="0" y="0" font-size="6.9" text-anchor="end" font-weight="normal" font-style="normal" fill="#3a3a3a">0.01</text>
<line x1="36.10" y1="589.30" x2="39.30" y2="589.30" stroke="#1e1e1e" stroke-width="1.1"/>
<text transform="translate(32.40,591.78) scale(0.84,1)" x="0" y="0" font-size="6.9" text-anchor="end" font-weight="normal" font-style="normal" fill="#3a3a3a">0.02</text>
<line x1="36.10" y1="629.80" x2="39.30" y2="629.80" stroke="#1e1e1e" stroke-width="1.1"/>
<line x1="36.10" y1="602.80" x2="39.30" y2="602.80" stroke="#1e1e1e" stroke-width="1.1"/>
<rect x="47.00" y="598.80" width="13.80" height="44.50" fill="#7fa3c6"/>
<rect x="70.00" y="593.80" width="13.80" height="49.50" fill="#e58a9d"/>
<rect x="93.20" y="598.00" width="13.80" height="45.30" fill="#a2d39e"/>
<line x1="38.65" y1="646.10" x2="108.80" y2="646.10" stroke="#1e1e1e" stroke-width="1.35"/>
<line x1="53.90" y1="646.10" x2="53.90" y2="649.50" stroke="#1e1e1e" stroke-width="1.1"/>
<line x1="76.90" y1="646.10" x2="76.90" y2="649.50" stroke="#1e1e1e" stroke-width="1.1"/>
<line x1="100.10" y1="646.10" x2="100.10" y2="649.50" stroke="#1e1e1e" stroke-width="1.1"/>
<line x1="76.90" y1="593.00" x2="76.90" y2="604.00" stroke="#111" stroke-width="1.0"/>
<line x1="75.50" y1="593.00" x2="78.30" y2="593.00" stroke="#111" stroke-width="1.0"/>
<line x1="75.50" y1="604.00" x2="78.30" y2="604.00" stroke="#111" stroke-width="1.0"/>
<line x1="100.10" y1="594.00" x2="100.10" y2="602.00" stroke="#111" stroke-width="1.0"/>
<line x1="98.70" y1="594.00" x2="101.50" y2="594.00" stroke="#111" stroke-width="1.0"/>
<line x1="98.70" y1="602.00" x2="101.50" y2="602.00" stroke="#111" stroke-width="1.0"/>
<circle cx="52.00" cy="592.50" r="2.05" fill="#24507f" stroke="#0b1a2e" stroke-width="0.85"/>
<circle cx="51.40" cy="596.60" r="2.05" fill="#24507f" stroke="#0b1a2e" stroke-width="0.85"/>
<circle cx="54.60" cy="598.20" r="2.05" fill="#24507f" stroke="#0b1a2e" stroke-width="0.85"/>
<circle cx="53.00" cy="601.40" r="2.05" fill="#24507f" stroke="#0b1a2e" stroke-width="0.85"/>
<circle cx="52.40" cy="604.00" r="2.05" fill="#24507f" stroke="#0b1a2e" stroke-width="0.85"/>
<circle cx="75.60" cy="587.20" r="2.05" fill="#a01f45" stroke="#3a0716" stroke-width="0.85"/>
<circle cx="79.00" cy="588.60" r="2.05" fill="#a01f45" stroke="#3a0716" stroke-width="0.85"/>
<circle cx="78.20" cy="592.60" r="2.05" fill="#a01f45" stroke="#3a0716" stroke-width="0.85"/>
<circle cx="76.20" cy="598.40" r="2.05" fill="#a01f45" stroke="#3a0716" stroke-width="0.85"/>
<circle cx="77.00" cy="605.80" r="2.05" fill="#a01f45" stroke="#3a0716" stroke-width="0.85"/>
<circle cx="98.60" cy="586.40" r="2.05" fill="#78c078" stroke="#1a5520" stroke-width="0.85"/>
<circle cx="101.20" cy="596.40" r="2.05" fill="#78c078" stroke="#1a5520" stroke-width="0.85"/>
<circle cx="100.00" cy="599.20" r="2.05" fill="#78c078" stroke="#1a5520" stroke-width="0.85"/>
<circle cx="99.40" cy="606.00" r="2.05" fill="#78c078" stroke="#1a5520" stroke-width="0.85"/>
<line x1="45.50" y1="582.50" x2="78.80" y2="582.50" stroke="#4c4c4c" stroke-width="1.3"/>
<text x="62.50" y="581.14" font-size="6.5" text-anchor="middle" font-weight="normal" font-style="normal" fill="#333">n.s.</text>
<line x1="73.80" y1="575.50" x2="107.00" y2="575.50" stroke="#4c4c4c" stroke-width="1.3"/>
<text x="90.00" y="574.14" font-size="6.5" text-anchor="middle" font-weight="normal" font-style="normal" fill="#333">n.s.</text>
<text transform="translate(11.50,614.70) rotate(-90)" x="0" y="2.95" font-size="8.2" text-anchor="middle" font-weight="normal" font-style="normal" fill="#2e2e2e" stroke="#2e2e2e" stroke-width="0.22" textLength="58.20" lengthAdjust="spacingAndGlyphs">Peak (Abs 405 nm)</text>
<text x="53.90" y="658.58" font-size="6.6" text-anchor="middle" font-weight="normal" font-style="normal" fill="#333">ND</text>
<text x="76.90" y="658.58" font-size="6.6" text-anchor="middle" font-weight="normal" font-style="normal" fill="#333">HFD</text>
<text x="100.10" y="658.58" font-size="6.6" text-anchor="middle" font-weight="normal" font-style="normal" fill="#333">HFD.LJN</text>
<text transform="translate(130.00,568.80) scale(1.0,1)" x="0" y="0" font-size="11.8" font-weight="bold" fill="#0e0e0e">Q</text>
<line x1="153.00" y1="583.40" x2="153.00" y2="646.70" stroke="#1e1e1e" stroke-width="1.35"/>
<line x1="149.80" y1="643.20" x2="153.00" y2="643.20" stroke="#1e1e1e" stroke-width="1.1"/>
<text transform="translate(146.10,645.68) scale(0.84,1)" x="0" y="0" font-size="6.9" text-anchor="end" font-weight="normal" font-style="normal" fill="#3a3a3a">0</text>
<line x1="149.80" y1="631.78" x2="153.00" y2="631.78" stroke="#1e1e1e" stroke-width="1.1"/>
<text transform="translate(146.10,634.26) scale(0.84,1)" x="0" y="0" font-size="6.9" text-anchor="end" font-weight="normal" font-style="normal" fill="#3a3a3a">1</text>
<line x1="149.80" y1="620.36" x2="153.00" y2="620.36" stroke="#1e1e1e" stroke-width="1.1"/>
<text transform="translate(146.10,622.84) scale(0.84,1)" x="0" y="0" font-size="6.9" text-anchor="end" font-weight="normal" font-style="normal" fill="#3a3a3a">2</text>
<line x1="149.80" y1="608.94" x2="153.00" y2="608.94" stroke="#1e1e1e" stroke-width="1.1"/>
<text transform="translate(146.10,611.42) scale(0.84,1)" x="0" y="0" font-size="6.9" text-anchor="end" font-weight="normal" font-style="normal" fill="#3a3a3a">3</text>
<line x1="149.80" y1="597.52" x2="153.00" y2="597.52" stroke="#1e1e1e" stroke-width="1.1"/>
<text transform="translate(146.10,600.00) scale(0.84,1)" x="0" y="0" font-size="6.9" text-anchor="end" font-weight="normal" font-style="normal" fill="#3a3a3a">4</text>
<line x1="149.80" y1="586.10" x2="153.00" y2="586.10" stroke="#1e1e1e" stroke-width="1.1"/>
<text transform="translate(146.10,588.58) scale(0.84,1)" x="0" y="0" font-size="6.9" text-anchor="end" font-weight="normal" font-style="normal" fill="#3a3a3a">5</text>
<rect x="160.00" y="613.00" width="13.80" height="30.20" fill="#7fa3c6"/>
<rect x="183.20" y="608.00" width="13.80" height="35.20" fill="#e58a9d"/>
<rect x="206.20" y="609.50" width="13.80" height="33.70" fill="#a2d39e"/>
<line x1="152.35" y1="646.10" x2="222.00" y2="646.10" stroke="#1e1e1e" stroke-width="1.35"/>
<line x1="166.90" y1="646.10" x2="166.90" y2="649.50" stroke="#1e1e1e" stroke-width="1.1"/>
<line x1="190.10" y1="646.10" x2="190.10" y2="649.50" stroke="#1e1e1e" stroke-width="1.1"/>
<line x1="213.10" y1="646.10" x2="213.10" y2="649.50" stroke="#1e1e1e" stroke-width="1.1"/>
<line x1="190.10" y1="600.80" x2="190.10" y2="618.00" stroke="#111" stroke-width="1.0"/>
<line x1="188.70" y1="600.80" x2="191.50" y2="600.80" stroke="#111" stroke-width="1.0"/>
<line x1="188.70" y1="618.00" x2="191.50" y2="618.00" stroke="#111" stroke-width="1.0"/>
<line x1="213.10" y1="604.80" x2="213.10" y2="614.60" stroke="#111" stroke-width="1.0"/>
<line x1="211.70" y1="604.80" x2="214.50" y2="604.80" stroke="#111" stroke-width="1.0"/>
<line x1="211.70" y1="614.60" x2="214.50" y2="614.60" stroke="#111" stroke-width="1.0"/>
<circle cx="165.40" cy="607.40" r="2.05" fill="#24507f" stroke="#0b1a2e" stroke-width="0.85"/>
<circle cx="167.60" cy="611.20" r="2.05" fill="#24507f" stroke="#0b1a2e" stroke-width="0.85"/>
<circle cx="164.80" cy="614.80" r="2.05" fill="#24507f" stroke="#0b1a2e" stroke-width="0.85"/>
<circle cx="167.60" cy="615.20" r="2.05" fill="#24507f" stroke="#0b1a2e" stroke-width="0.85"/>
<circle cx="191.20" cy="587.00" r="2.05" fill="#a01f45" stroke="#3a0716" stroke-width="0.85"/>
<circle cx="189.20" cy="610.60" r="2.05" fill="#a01f45" stroke="#3a0716" stroke-width="0.85"/>
<circle cx="190.60" cy="612.00" r="2.05" fill="#a01f45" stroke="#3a0716" stroke-width="0.85"/>
<circle cx="190.40" cy="620.20" r="2.05" fill="#a01f45" stroke="#3a0716" stroke-width="0.85"/>
<circle cx="212.40" cy="595.40" r="2.05" fill="#78c078" stroke="#1a5520" stroke-width="0.85"/>
<circle cx="213.60" cy="609.60" r="2.05" fill="#78c078" stroke="#1a5520" stroke-width="0.85"/>
<circle cx="212.00" cy="612.20" r="2.05" fill="#78c078" stroke="#1a5520" stroke-width="0.85"/>
<circle cx="213.20" cy="618.20" r="2.05" fill="#78c078" stroke="#1a5520" stroke-width="0.85"/>
<line x1="162.00" y1="584.50" x2="195.00" y2="584.50" stroke="#4c4c4c" stroke-width="1.3"/>
<text x="178.80" y="583.14" font-size="6.5" text-anchor="middle" font-weight="normal" font-style="normal" fill="#333">n.s.</text>
<line x1="185.50" y1="576.50" x2="218.30" y2="576.50" stroke="#4c4c4c" stroke-width="1.3"/>
<text x="201.80" y="575.14" font-size="6.5" text-anchor="middle" font-weight="normal" font-style="normal" fill="#333">n.s.</text>
<text transform="translate(134.80,612.80) rotate(-90)" x="0" y="2.95" font-size="8.2" text-anchor="middle" font-weight="normal" font-style="normal" fill="#2e2e2e" stroke="#2e2e2e" stroke-width="0.22" textLength="46.90" lengthAdjust="spacingAndGlyphs">TtPlateau (min)</text>
<text x="166.90" y="658.58" font-size="6.6" text-anchor="middle" font-weight="normal" font-style="normal" fill="#333">ND</text>
<text x="190.10" y="658.58" font-size="6.6" text-anchor="middle" font-weight="normal" font-style="normal" fill="#333">HFD</text>
<text x="213.10" y="658.58" font-size="6.6" text-anchor="middle" font-weight="normal" font-style="normal" fill="#333">HFD.LJN</text>
<text transform="translate(244.50,568.80) scale(0.87,1)" x="0" y="0" font-size="11.8" font-weight="bold" fill="#0e0e0e">R</text>
<line x1="265.80" y1="582.90" x2="265.80" y2="646.70" stroke="#1e1e1e" stroke-width="1.35"/>
<line x1="262.60" y1="643.30" x2="265.80" y2="643.30" stroke="#1e1e1e" stroke-width="1.1"/>
<text transform="translate(258.90,645.78) scale(0.84,1)" x="0" y="0" font-size="6.9" text-anchor="end" font-weight="normal" font-style="normal" fill="#3a3a3a">0</text>
<line x1="262.60" y1="628.92" x2="265.80" y2="628.92" stroke="#1e1e1e" stroke-width="1.1"/>
<text transform="translate(258.90,631.40) scale(0.84,1)" x="0" y="0" font-size="6.9" text-anchor="end" font-weight="normal" font-style="normal" fill="#3a3a3a">2</text>
<line x1="262.60" y1="614.54" x2="265.80" y2="614.54" stroke="#1e1e1e" stroke-width="1.1"/>
<text transform="translate(258.90,617.02) scale(0.84,1)" x="0" y="0" font-size="6.9" text-anchor="end" font-weight="normal" font-style="normal" fill="#3a3a3a">4</text>
<line x1="262.60" y1="600.16" x2="265.80" y2="600.16" stroke="#1e1e1e" stroke-width="1.1"/>
<text transform="translate(258.90,602.64) scale(0.84,1)" x="0" y="0" font-size="6.9" text-anchor="end" font-weight="normal" font-style="normal" fill="#3a3a3a">6</text>
<line x1="262.60" y1="585.78" x2="265.80" y2="585.78" stroke="#1e1e1e" stroke-width="1.1"/>
<text transform="translate(258.90,588.26) scale(0.84,1)" x="0" y="0" font-size="6.9" text-anchor="end" font-weight="normal" font-style="normal" fill="#3a3a3a">8</text>
<rect x="273.20" y="615.80" width="13.80" height="27.50" fill="#7fa3c6"/>
<rect x="296.20" y="595.00" width="13.80" height="48.30" fill="#e58a9d"/>
<rect x="319.50" y="610.00" width="13.80" height="33.30" fill="#a2d39e"/>
<line x1="265.15" y1="646.10" x2="335.00" y2="646.10" stroke="#1e1e1e" stroke-width="1.35"/>
<line x1="280.10" y1="646.10" x2="280.10" y2="649.50" stroke="#1e1e1e" stroke-width="1.1"/>
<line x1="303.10" y1="646.10" x2="303.10" y2="649.50" stroke="#1e1e1e" stroke-width="1.1"/>
<line x1="326.40" y1="646.10" x2="326.40" y2="649.50" stroke="#1e1e1e" stroke-width="1.1"/>
<line x1="303.10" y1="592.00" x2="303.10" y2="600.00" stroke="#111" stroke-width="1.0"/>
<line x1="301.70" y1="592.00" x2="304.50" y2="592.00" stroke="#111" stroke-width="1.0"/>
<line x1="301.70" y1="600.00" x2="304.50" y2="600.00" stroke="#111" stroke-width="1.0"/>
<line x1="326.40" y1="607.60" x2="326.40" y2="612.00" stroke="#111" stroke-width="1.0"/>
<line x1="325.00" y1="607.60" x2="327.80" y2="607.60" stroke="#111" stroke-width="1.0"/>
<line x1="325.00" y1="612.00" x2="327.80" y2="612.00" stroke="#111" stroke-width="1.0"/>
<circle cx="280.80" cy="611.80" r="2.05" fill="#24507f" stroke="#0b1a2e" stroke-width="0.85"/>
<circle cx="279.40" cy="614.60" r="2.05" fill="#24507f" stroke="#0b1a2e" stroke-width="0.85"/>
<circle cx="277.60" cy="617.00" r="2.05" fill="#24507f" stroke="#0b1a2e" stroke-width="0.85"/>
<circle cx="280.60" cy="616.40" r="2.05" fill="#24507f" stroke="#0b1a2e" stroke-width="0.85"/>
<circle cx="304.80" cy="586.60" r="2.05" fill="#a01f45" stroke="#3a0716" stroke-width="0.85"/>
<circle cx="301.40" cy="591.40" r="2.05" fill="#a01f45" stroke="#3a0716" stroke-width="0.85"/>
<circle cx="303.40" cy="594.40" r="2.05" fill="#a01f45" stroke="#3a0716" stroke-width="0.85"/>
<circle cx="302.80" cy="600.40" r="2.05" fill="#a01f45" stroke="#3a0716" stroke-width="0.85"/>
<circle cx="304.00" cy="605.40" r="2.05" fill="#a01f45" stroke="#3a0716" stroke-width="0.85"/>
<circle cx="324.40" cy="606.60" r="2.05" fill="#78c078" stroke="#1a5520" stroke-width="0.85"/>
<circle cx="327.20" cy="607.40" r="2.05" fill="#78c078" stroke="#1a5520" stroke-width="0.85"/>
<circle cx="331.00" cy="607.60" r="2.05" fill="#78c078" stroke="#1a5520" stroke-width="0.85"/>
<circle cx="325.80" cy="613.20" r="2.05" fill="#78c078" stroke="#1a5520" stroke-width="0.85"/>
<line x1="273.30" y1="584.50" x2="306.30" y2="584.50" stroke="#4c4c4c" stroke-width="1.3"/>
<circle cx="288.70" cy="581.10" r="1.05" fill="#2a2a2a"/>
<circle cx="291.30" cy="581.10" r="1.05" fill="#2a2a2a"/>
<line x1="295.50" y1="575.50" x2="329.30" y2="575.50" stroke="#4c4c4c" stroke-width="1.3"/>
<circle cx="312.50" cy="571.60" r="1.05" fill="#2a2a2a"/>
<text transform="translate(247.70,612.60) rotate(-90)" x="0" y="2.95" font-size="8.2" text-anchor="middle" font-weight="normal" font-style="normal" fill="#2e2e2e" stroke="#2e2e2e" stroke-width="0.22" textLength="61.50" lengthAdjust="spacingAndGlyphs">Clot lysis time (min)</text>
<text x="280.10" y="658.58" font-size="6.6" text-anchor="middle" font-weight="normal" font-style="normal" fill="#333">ND</text>
<text x="303.10" y="658.58" font-size="6.6" text-anchor="middle" font-weight="normal" font-style="normal" fill="#333">HFD</text>
<text x="326.40" y="658.58" font-size="6.6" text-anchor="middle" font-weight="normal" font-style="normal" fill="#333">HFD.LJN</text>
<text transform="translate(124.10,321.30) scale(1.0,1)" x="0" y="0" font-size="11.8" font-weight="bold" fill="#0e0e0e">I</text>
<rect x="135.00" y="336.30" width="121.00" height="44.20" fill="#998d80"/>
<ellipse cx="155.2" cy="358.6" rx="19.9" ry="21.0" fill="#e1e8f2" stroke="#f0f3f7" stroke-width="0.8"/>
<ellipse cx="195.7" cy="358.6" rx="19.4" ry="21.0" fill="#e1e8f2" stroke="#f0f3f7" stroke-width="0.8"/>
<ellipse cx="236.1" cy="358.6" rx="19.3" ry="21.0" fill="#e1e8f2" stroke="#f0f3f7" stroke-width="0.8"/>
<circle cx="156.38" cy="375.00" r="0.37" fill="#8d9bbb"/>
<circle cx="142.43" cy="348.30" r="0.31" fill="#8d9bbb"/>
<circle cx="172.48" cy="360.11" r="0.35" fill="#8d9bbb"/>
<circle cx="157.00" cy="377.80" r="0.39" fill="#8d9bbb"/>
<circle cx="163.05" cy="344.89" r="0.43" fill="#8d9bbb"/>
<circle cx="164.63" cy="372.41" r="0.47" fill="#8d9bbb"/>
<circle cx="138.61" cy="356.03" r="0.43" fill="#8d9bbb"/>
<circle cx="170.72" cy="365.57" r="0.42" fill="#8d9bbb"/>
<circle cx="151.24" cy="371.14" r="0.47" fill="#8d9bbb"/>
<circle cx="138.81" cy="361.59" r="0.48" fill="#8d9bbb"/>
<circle cx="151.21" cy="340.25" r="0.38" fill="#8d9bbb"/>
<circle cx="159.91" cy="343.58" r="0.49" fill="#8d9bbb"/>
<circle cx="164.55" cy="349.20" r="0.33" fill="#8d9bbb"/>
<circle cx="158.93" cy="377.29" r="0.39" fill="#8d9bbb"/>
<circle cx="145.31" cy="347.94" r="0.40" fill="#8d9bbb"/>
<circle cx="144.32" cy="368.61" r="0.42" fill="#8d9bbb"/>
<circle cx="139.89" cy="349.15" r="0.44" fill="#8d9bbb"/>
<circle cx="170.94" cy="350.65" r="0.50" fill="#8d9bbb"/>
<circle cx="148.88" cy="346.24" r="0.47" fill="#8d9bbb"/>
<circle cx="172.50" cy="354.47" r="0.41" fill="#8d9bbb"/>
<circle cx="152.14" cy="344.62" r="0.47" fill="#8d9bbb"/>
<circle cx="142.63" cy="352.00" r="0.31" fill="#8d9bbb"/>
<circle cx="166.29" cy="343.31" r="0.32" fill="#8d9bbb"/>
<circle cx="159.82" cy="343.78" r="0.33" fill="#8d9bbb"/>
<circle cx="150.59" cy="375.79" r="0.47" fill="#8d9bbb"/>
<circle cx="170.59" cy="363.23" r="0.31" fill="#8d9bbb"/>
<circle cx="152.38" cy="343.79" r="0.48" fill="#8d9bbb"/>
<circle cx="170.44" cy="356.63" r="0.50" fill="#8d9bbb"/>
<circle cx="150.51" cy="371.17" r="0.42" fill="#8d9bbb"/>
<circle cx="168.45" cy="361.39" r="0.38" fill="#8d9bbb"/>
<circle cx="186.25" cy="350.32" r="0.31" fill="#9aa6c0"/>
<circle cx="204.59" cy="348.35" r="0.44" fill="#9aa6c0"/>
<circle cx="206.50" cy="349.97" r="0.37" fill="#9aa6c0"/>
<circle cx="180.75" cy="356.60" r="0.39" fill="#9aa6c0"/>
<circle cx="181.79" cy="352.88" r="0.44" fill="#9aa6c0"/>
<circle cx="181.86" cy="357.96" r="0.41" fill="#9aa6c0"/>
<line x1="201.23" y1="360.94" x2="212.28" y2="366.00" stroke="#d3dbe7" stroke-width="0.4"/>
<line x1="197.32" y1="364.38" x2="200.56" y2="376.90" stroke="#d3dbe7" stroke-width="0.4"/>
<line x1="192.19" y1="363.47" x2="185.18" y2="374.01" stroke="#d3dbe7" stroke-width="0.4"/>
<line x1="189.71" y1="358.89" x2="177.72" y2="359.53" stroke="#d3dbe7" stroke-width="0.4"/>
<line x1="191.73" y1="354.10" x2="183.80" y2="344.34" stroke="#d3dbe7" stroke-width="0.4"/>
<line x1="196.75" y1="352.69" x2="198.84" y2="339.89" stroke="#d3dbe7" stroke-width="0.4"/>
<line x1="200.97" y1="355.74" x2="211.52" y2="349.53" stroke="#d3dbe7" stroke-width="0.4"/>
<line x1="241.63" y1="360.94" x2="252.68" y2="366.00" stroke="#d3dbe7" stroke-width="0.4"/>
<line x1="235.59" y1="364.58" x2="234.56" y2="377.53" stroke="#d3dbe7" stroke-width="0.4"/>
<line x1="230.26" y1="359.96" x2="218.57" y2="362.90" stroke="#d3dbe7" stroke-width="0.4"/>
<line x1="233.00" y1="353.46" x2="226.81" y2="342.33" stroke="#d3dbe7" stroke-width="0.4"/>
<line x1="240.03" y1="354.07" x2="247.89" y2="344.24" stroke="#d3dbe7" stroke-width="0.4"/>
<text x="155.20" y="360.93" font-size="7.3" text-anchor="middle" font-weight="bold" font-style="normal" fill="#1e2434" textLength="9.40" lengthAdjust="spacingAndGlyphs">ND</text>
<text x="195.70" y="360.93" font-size="7.3" text-anchor="middle" font-weight="bold" font-style="normal" fill="#1e2434" textLength="12.60" lengthAdjust="spacingAndGlyphs">HFD</text>
<text x="236.10" y="360.93" font-size="7.3" text-anchor="middle" font-weight="bold" font-style="normal" fill="#1e2434" textLength="26.20" lengthAdjust="spacingAndGlyphs">HFD.LJN</text>
<text transform="translate(392.70,320.80) scale(1.0,1)" x="0" y="0" font-size="11.8" font-weight="bold" fill="#0e0e0e">K</text>
<rect x="406.90" y="326.90" width="69.90" height="65.00" fill="#5c5f67"/>
<defs><linearGradient id="rul" x1="0" y1="0" x2="0" y2="1"><stop offset="0" stop-color="#bcbfc6"/><stop offset="1" stop-color="#a9acb3"/></linearGradient></defs>
<rect x="406.90" y="326.90" width="21.70" height="65.00" fill="url(#rul)"/>
<g filter="url(#blur3)">
<ellipse cx="439.70" cy="338.55" rx="3.35" ry="7.75" fill="#2e2a26" opacity="0.6"/>
<ellipse cx="438.40" cy="338.99" rx="2.75" ry="6.51" fill="#bca783"/>
<ellipse cx="438.40" cy="333.10" rx="4.00" ry="3.10" fill="#cdbb98"/>
<ellipse cx="438.00" cy="336.98" rx="1.21" ry="4.65" fill="#eee5d2"/>
<ellipse cx="437.80" cy="332.79" rx="2.00" ry="1.55" fill="#f2ebdc"/>
<ellipse cx="456.50" cy="338.80" rx="2.60" ry="9.00" fill="#2e2a26" opacity="0.6"/>
<ellipse cx="455.20" cy="339.44" rx="2.00" ry="7.56" fill="#bca783"/>
<ellipse cx="455.70" cy="332.60" rx="2.50" ry="3.60" fill="#cdbb98"/>
<ellipse cx="454.80" cy="337.10" rx="0.88" ry="5.40" fill="#eee5d2"/>
<ellipse cx="455.10" cy="332.24" rx="1.25" ry="1.80" fill="#f2ebdc"/>
<ellipse cx="473.20" cy="339.30" rx="2.85" ry="8.50" fill="#2e2a26" opacity="0.6"/>
<ellipse cx="471.90" cy="339.86" rx="2.25" ry="7.14" fill="#bca783"/>
<ellipse cx="472.70" cy="333.40" rx="3.50" ry="3.40" fill="#cdbb98"/>
<ellipse cx="471.50" cy="337.65" rx="0.99" ry="5.10" fill="#eee5d2"/>
<ellipse cx="472.10" cy="333.06" rx="1.75" ry="1.70" fill="#f2ebdc"/>
<ellipse cx="438.60" cy="361.30" rx="3.35" ry="8.50" fill="#2e2a26" opacity="0.6"/>
<ellipse cx="437.30" cy="361.86" rx="2.75" ry="7.14" fill="#bca783"/>
<ellipse cx="436.50" cy="355.40" rx="3.75" ry="3.40" fill="#cdbb98"/>
<ellipse cx="436.90" cy="359.65" rx="1.21" ry="5.10" fill="#eee5d2"/>
<ellipse cx="435.90" cy="355.06" rx="1.88" ry="1.70" fill="#f2ebdc"/>
<ellipse cx="457.70" cy="361.80" rx="2.85" ry="9.00" fill="#2e2a26" opacity="0.6"/>
<ellipse cx="456.40" cy="362.44" rx="2.25" ry="7.56" fill="#bca783"/>
<ellipse cx="455.90" cy="355.60" rx="4.25" ry="3.60" fill="#cdbb98"/>
<ellipse cx="456.00" cy="360.10" rx="0.99" ry="5.40" fill="#eee5d2"/>
<ellipse cx="455.30" cy="355.24" rx="2.12" ry="1.80" fill="#f2ebdc"/>
<ellipse cx="473.20" cy="360.30" rx="3.10" ry="7.50" fill="#2e2a26" opacity="0.6"/>
<ellipse cx="471.90" cy="360.70" rx="2.50" ry="6.30" fill="#bca783"/>
<ellipse cx="471.90" cy="355.00" rx="3.25" ry="3.00" fill="#cdbb98"/>
<ellipse cx="471.50" cy="358.75" rx="1.10" ry="4.50" fill="#eee5d2"/>
<ellipse cx="471.30" cy="354.70" rx="1.62" ry="1.50" fill="#f2ebdc"/>
<ellipse cx="439.20" cy="382.80" rx="3.60" ry="9.00" fill="#2e2a26" opacity="0.6"/>
<ellipse cx="437.90" cy="383.44" rx="3.00" ry="7.56" fill="#bca783"/>
<ellipse cx="437.90" cy="376.60" rx="3.50" ry="3.60" fill="#cdbb98"/>
<ellipse cx="437.50" cy="381.10" rx="1.32" ry="5.40" fill="#eee5d2"/>
<ellipse cx="437.30" cy="376.24" rx="1.75" ry="1.80" fill="#f2ebdc"/>
<ellipse cx="456.90" cy="380.30" rx="3.85" ry="6.50" fill="#2e2a26" opacity="0.6"/>
<ellipse cx="455.60" cy="380.54" rx="3.25" ry="5.46" fill="#bca783"/>
<ellipse cx="455.60" cy="375.60" rx="3.75" ry="2.60" fill="#cdbb98"/>
<ellipse cx="455.20" cy="378.85" rx="1.43" ry="3.90" fill="#eee5d2"/>
<ellipse cx="455.00" cy="375.34" rx="1.88" ry="1.30" fill="#f2ebdc"/>
<ellipse cx="474.00" cy="383.30" rx="3.10" ry="8.50" fill="#2e2a26" opacity="0.6"/>
<ellipse cx="472.70" cy="383.86" rx="2.50" ry="7.14" fill="#bca783"/>
<ellipse cx="473.50" cy="377.40" rx="3.25" ry="3.40" fill="#cdbb98"/>
<ellipse cx="472.30" cy="381.65" rx="1.10" ry="5.10" fill="#eee5d2"/>
<ellipse cx="472.90" cy="377.06" rx="1.62" ry="1.70" fill="#f2ebdc"/>
</g>
<text x="407.30" y="339.87" font-size="5.2" text-anchor="start" font-weight="normal" font-style="normal" fill="#8a8f98" textLength="6.50" lengthAdjust="spacingAndGlyphs">cm</text>
<text x="407.30" y="353.87" font-size="5.2" text-anchor="start" font-weight="normal" font-style="normal" fill="#8a8f98" textLength="5.50" lengthAdjust="spacingAndGlyphs">cm</text>
<text x="407.30" y="368.37" font-size="5.2" text-anchor="start" font-weight="normal" font-style="normal" fill="#8a8f98" textLength="4.50" lengthAdjust="spacingAndGlyphs">cm</text>
<text x="415.50" y="340.59" font-size="7.2" text-anchor="start" font-weight="bold" font-style="normal" fill="#141418" textLength="9.80" lengthAdjust="spacingAndGlyphs">ND</text>
<text x="413.90" y="365.09" font-size="7.2" text-anchor="start" font-weight="bold" font-style="normal" fill="#141418" textLength="12.30" lengthAdjust="spacingAndGlyphs">HFD</text>
<text x="407.40" y="387.19" font-size="7.2" text-anchor="start" font-weight="bold" font-style="normal" fill="#141418" textLength="22.80" lengthAdjust="spacingAndGlyphs">HFD,LJN</text>
<text transform="translate(244.20,435.10) scale(1.0,1)" x="0" y="0" font-size="11.8" font-weight="bold" fill="#0e0e0e">N</text>
<line x1="286.80" y1="465.60" x2="286.80" y2="515.50" stroke="#1e1e1e" stroke-width="1.35"/>
<line x1="283.60" y1="513.00" x2="286.80" y2="513.00" stroke="#1e1e1e" stroke-width="1.1"/>
<text transform="translate(279.60,515.48) scale(0.84,1)" x="0" y="0" font-size="6.9" text-anchor="end" font-weight="normal" font-style="normal" fill="#3a3a3a">0.00</text>
<line x1="283.60" y1="498.50" x2="286.80" y2="498.50" stroke="#1e1e1e" stroke-width="1.1"/>
<line x1="283.60" y1="483.50" x2="286.80" y2="483.50" stroke="#1e1e1e" stroke-width="1.1"/>
<text transform="translate(279.60,485.98) scale(0.84,1)" x="0" y="0" font-size="6.9" text-anchor="end" font-weight="normal" font-style="normal" fill="#3a3a3a">0.02</text>
<line x1="283.60" y1="468.50" x2="286.80" y2="468.50" stroke="#1e1e1e" stroke-width="1.1"/>
<line x1="286.15" y1="514.90" x2="343.30" y2="514.90" stroke="#1e1e1e" stroke-width="1.35"/>
<line x1="289.20" y1="514.90" x2="289.20" y2="518.30" stroke="#1e1e1e" stroke-width="1.1"/>
<line x1="306.60" y1="514.90" x2="306.60" y2="518.30" stroke="#1e1e1e" stroke-width="1.1"/>
<line x1="324.10" y1="514.90" x2="324.10" y2="518.30" stroke="#1e1e1e" stroke-width="1.1"/>
<line x1="341.60" y1="514.90" x2="341.60" y2="518.30" stroke="#1e1e1e" stroke-width="1.1"/>
<text x="289.20" y="526.85" font-size="6.8" text-anchor="middle" font-weight="normal" font-style="normal" fill="#3a3a3a">0</text>
<text x="306.60" y="526.85" font-size="6.8" text-anchor="middle" font-weight="normal" font-style="normal" fill="#3a3a3a">5</text>
<text x="324.10" y="526.85" font-size="6.8" text-anchor="middle" font-weight="normal" font-style="normal" fill="#3a3a3a">10</text>
<text x="341.60" y="526.85" font-size="6.8" text-anchor="middle" font-weight="normal" font-style="normal" fill="#3a3a3a">15</text>
<text x="315.50" y="540.55" font-size="8.2" text-anchor="middle" font-weight="normal" font-style="normal" fill="#2e2e2e" stroke="#2e2e2e" stroke-width="0.22" textLength="33.80" lengthAdjust="spacingAndGlyphs">Time (min)</text>
<text transform="translate(248.50,490.40) rotate(-90)" x="0" y="2.95" font-size="8.2" text-anchor="middle" font-weight="normal" font-style="normal" fill="#2e2e2e" stroke="#2e2e2e" stroke-width="0.22" textLength="62.90" lengthAdjust="spacingAndGlyphs">Fibrin formation and</text>
<text transform="translate(258.80,491.00) rotate(-90)" x="0" y="2.95" font-size="8.2" text-anchor="middle" font-weight="normal" font-style="normal" fill="#2e2e2e" stroke="#2e2e2e" stroke-width="0.22" textLength="57.30" lengthAdjust="spacingAndGlyphs">lysis (ABs 405 nm)</text>
<path d="M289.20,513.00 C290.23,513.00 294.22,514.17 295.40,513.00 C296.58,511.83 295.97,509.25 296.30,506.00 C296.63,502.75 296.95,496.67 297.40,493.50 C297.85,490.33 298.47,488.32 299.00,487.00 C299.53,485.68 300.07,485.50 300.60,485.60 C301.13,485.70 301.63,486.48 302.20,487.60 C302.77,488.72 303.37,490.53 304.00,492.30 C304.63,494.07 305.33,496.25 306.00,498.20 C306.67,500.15 307.33,502.10 308.00,504.00 C308.67,505.90 309.40,508.10 310.00,509.60 C310.60,511.10 309.93,512.43 311.60,513.00 C313.27,513.57 318.60,513.00 320.00,513.00" fill="none" stroke="#22609a" stroke-width="1.4" stroke-linejoin="round"/>
<circle cx="289.20" cy="513.00" r="1.30" fill="#22609a" stroke="#00000055" stroke-width="0.4"/>
<circle cx="290.94" cy="513.00" r="1.30" fill="#22609a" stroke="#00000055" stroke-width="0.4"/>
<circle cx="292.68" cy="513.00" r="1.30" fill="#22609a" stroke="#00000055" stroke-width="0.4"/>
<circle cx="294.42" cy="513.00" r="1.30" fill="#22609a" stroke="#00000055" stroke-width="0.4"/>
<circle cx="296.16" cy="507.09" r="1.30" fill="#22609a" stroke="#00000055" stroke-width="0.4"/>
<circle cx="297.90" cy="491.47" r="1.30" fill="#22609a" stroke="#00000055" stroke-width="0.4"/>
<circle cx="299.64" cy="486.44" r="1.30" fill="#22609a" stroke="#00000055" stroke-width="0.4"/>
<circle cx="301.38" cy="486.57" r="1.30" fill="#22609a" stroke="#00000055" stroke-width="0.4"/>
<circle cx="303.12" cy="490.00" r="1.30" fill="#22609a" stroke="#00000055" stroke-width="0.4"/>
<circle cx="304.86" cy="494.84" r="1.30" fill="#22609a" stroke="#00000055" stroke-width="0.4"/>
<circle cx="306.60" cy="499.94" r="1.30" fill="#22609a" stroke="#00000055" stroke-width="0.4"/>
<circle cx="308.34" cy="504.95" r="1.30" fill="#22609a" stroke="#00000055" stroke-width="0.4"/>
<circle cx="310.08" cy="509.77" r="1.30" fill="#22609a" stroke="#00000055" stroke-width="0.4"/>
<circle cx="311.82" cy="513.00" r="1.30" fill="#22609a" stroke="#00000055" stroke-width="0.4"/>
<circle cx="313.56" cy="513.00" r="1.30" fill="#22609a" stroke="#00000055" stroke-width="0.4"/>
<circle cx="315.30" cy="513.00" r="1.30" fill="#22609a" stroke="#00000055" stroke-width="0.4"/>
<circle cx="317.04" cy="513.00" r="1.30" fill="#22609a" stroke="#00000055" stroke-width="0.4"/>
<circle cx="318.78" cy="513.00" r="1.30" fill="#22609a" stroke="#00000055" stroke-width="0.4"/>
<path d="M296.00,513.00 C296.07,510.83 296.23,504.20 296.40,500.00 C296.57,495.80 296.57,490.27 297.00,487.80 C297.43,485.33 298.33,485.93 299.00,485.20 C299.67,484.47 300.33,483.87 301.00,483.40 C301.67,482.93 302.33,482.62 303.00,482.40 C303.67,482.18 304.25,482.02 305.00,482.10 C305.75,482.18 306.67,482.38 307.50,482.90 C308.33,483.42 309.08,484.18 310.00,485.20 C310.92,486.22 312.00,487.67 313.00,489.00 C314.00,490.33 315.00,491.77 316.00,493.20 C317.00,494.63 318.00,496.08 319.00,497.60 C320.00,499.12 321.00,500.73 322.00,502.30 C323.00,503.87 324.08,505.62 325.00,507.00 C325.92,508.38 326.73,509.60 327.50,510.60 C328.27,511.60 327.25,512.60 329.60,513.00 C331.95,513.40 339.60,513.00 341.60,513.00" fill="none" stroke="#d12a44" stroke-width="1.4" stroke-linejoin="round"/>
<circle cx="296.16" cy="507.80" r="1.30" fill="#d12a44" stroke="#00000055" stroke-width="0.4"/>
<circle cx="297.90" cy="486.63" r="1.30" fill="#d12a44" stroke="#00000055" stroke-width="0.4"/>
<circle cx="299.64" cy="484.62" r="1.30" fill="#d12a44" stroke="#00000055" stroke-width="0.4"/>
<circle cx="301.38" cy="483.21" r="1.30" fill="#d12a44" stroke="#00000055" stroke-width="0.4"/>
<circle cx="303.12" cy="482.38" r="1.30" fill="#d12a44" stroke="#00000055" stroke-width="0.4"/>
<circle cx="304.86" cy="482.12" r="1.30" fill="#d12a44" stroke="#00000055" stroke-width="0.4"/>
<circle cx="306.60" cy="482.61" r="1.30" fill="#d12a44" stroke="#00000055" stroke-width="0.4"/>
<circle cx="308.34" cy="483.67" r="1.30" fill="#d12a44" stroke="#00000055" stroke-width="0.4"/>
<circle cx="310.08" cy="485.30" r="1.30" fill="#d12a44" stroke="#00000055" stroke-width="0.4"/>
<circle cx="311.82" cy="487.51" r="1.30" fill="#d12a44" stroke="#00000055" stroke-width="0.4"/>
<circle cx="313.56" cy="489.78" r="1.30" fill="#d12a44" stroke="#00000055" stroke-width="0.4"/>
<circle cx="315.30" cy="492.22" r="1.30" fill="#d12a44" stroke="#00000055" stroke-width="0.4"/>
<circle cx="317.04" cy="494.73" r="1.30" fill="#d12a44" stroke="#00000055" stroke-width="0.4"/>
<circle cx="318.78" cy="497.28" r="1.30" fill="#d12a44" stroke="#00000055" stroke-width="0.4"/>
<circle cx="320.52" cy="499.98" r="1.30" fill="#d12a44" stroke="#00000055" stroke-width="0.4"/>
<circle cx="322.26" cy="502.71" r="1.30" fill="#d12a44" stroke="#00000055" stroke-width="0.4"/>
<circle cx="324.00" cy="505.43" r="1.30" fill="#d12a44" stroke="#00000055" stroke-width="0.4"/>
<circle cx="325.74" cy="508.07" r="1.30" fill="#d12a44" stroke="#00000055" stroke-width="0.4"/>
<circle cx="327.48" cy="510.57" r="1.30" fill="#d12a44" stroke="#00000055" stroke-width="0.4"/>
<circle cx="329.22" cy="512.57" r="1.30" fill="#d12a44" stroke="#00000055" stroke-width="0.4"/>
<circle cx="330.96" cy="513.00" r="1.30" fill="#d12a44" stroke="#00000055" stroke-width="0.4"/>
<circle cx="332.70" cy="513.00" r="1.30" fill="#d12a44" stroke="#00000055" stroke-width="0.4"/>
<circle cx="334.44" cy="513.00" r="1.30" fill="#d12a44" stroke="#00000055" stroke-width="0.4"/>
<circle cx="336.18" cy="513.00" r="1.30" fill="#d12a44" stroke="#00000055" stroke-width="0.4"/>
<circle cx="337.92" cy="513.00" r="1.30" fill="#d12a44" stroke="#00000055" stroke-width="0.4"/>
<circle cx="339.66" cy="513.00" r="1.30" fill="#d12a44" stroke="#00000055" stroke-width="0.4"/>
<circle cx="341.40" cy="513.00" r="1.30" fill="#d12a44" stroke="#00000055" stroke-width="0.4"/>
<path d="M289.20,513.00 C290.22,513.00 294.13,514.08 295.30,513.00 C296.47,511.92 295.83,509.95 296.20,506.50 C296.57,503.05 297.03,495.48 297.50,492.30 C297.97,489.12 298.42,488.57 299.00,487.40 C299.58,486.23 300.33,485.87 301.00,485.30 C301.67,484.73 302.33,484.12 303.00,484.00 C303.67,483.88 304.33,484.05 305.00,484.60 C305.67,485.15 306.33,486.03 307.00,487.30 C307.67,488.57 308.33,490.50 309.00,492.20 C309.67,493.90 310.33,495.70 311.00,497.50 C311.67,499.30 312.33,501.25 313.00,503.00 C313.67,504.75 314.33,506.53 315.00,508.00 C315.67,509.47 316.40,510.97 317.00,511.80 C317.60,512.63 314.50,512.80 318.60,513.00 C322.70,513.20 337.77,513.00 341.60,513.00" fill="none" stroke="#3fae4a" stroke-width="1.4" stroke-linejoin="round"/>
<circle cx="289.20" cy="513.00" r="1.30" fill="#3fae4a" stroke="#00000055" stroke-width="0.4"/>
<circle cx="290.94" cy="513.00" r="1.30" fill="#3fae4a" stroke="#00000055" stroke-width="0.4"/>
<circle cx="292.68" cy="513.00" r="1.30" fill="#3fae4a" stroke="#00000055" stroke-width="0.4"/>
<circle cx="294.42" cy="513.00" r="1.30" fill="#3fae4a" stroke="#00000055" stroke-width="0.4"/>
<circle cx="296.16" cy="506.79" r="1.30" fill="#3fae4a" stroke="#00000055" stroke-width="0.4"/>
<circle cx="297.90" cy="490.99" r="1.30" fill="#3fae4a" stroke="#00000055" stroke-width="0.4"/>
<circle cx="299.64" cy="486.73" r="1.30" fill="#3fae4a" stroke="#00000055" stroke-width="0.4"/>
<circle cx="301.38" cy="485.05" r="1.30" fill="#3fae4a" stroke="#00000055" stroke-width="0.4"/>
<circle cx="303.12" cy="484.04" r="1.30" fill="#3fae4a" stroke="#00000055" stroke-width="0.4"/>
<circle cx="304.86" cy="484.56" r="1.30" fill="#3fae4a" stroke="#00000055" stroke-width="0.4"/>
<circle cx="306.60" cy="486.76" r="1.30" fill="#3fae4a" stroke="#00000055" stroke-width="0.4"/>
<circle cx="308.34" cy="490.58" r="1.30" fill="#3fae4a" stroke="#00000055" stroke-width="0.4"/>
<circle cx="310.08" cy="495.06" r="1.30" fill="#3fae4a" stroke="#00000055" stroke-width="0.4"/>
<circle cx="311.82" cy="499.75" r="1.30" fill="#3fae4a" stroke="#00000055" stroke-width="0.4"/>
<circle cx="313.56" cy="504.40" r="1.30" fill="#3fae4a" stroke="#00000055" stroke-width="0.4"/>
<circle cx="315.30" cy="508.57" r="1.30" fill="#3fae4a" stroke="#00000055" stroke-width="0.4"/>
<circle cx="317.04" cy="511.83" r="1.30" fill="#3fae4a" stroke="#00000055" stroke-width="0.4"/>
<circle cx="318.78" cy="513.00" r="1.30" fill="#3fae4a" stroke="#00000055" stroke-width="0.4"/>
<circle cx="320.52" cy="513.00" r="1.30" fill="#3fae4a" stroke="#00000055" stroke-width="0.4"/>
<circle cx="322.26" cy="513.00" r="1.30" fill="#3fae4a" stroke="#00000055" stroke-width="0.4"/>
<circle cx="324.00" cy="513.00" r="1.30" fill="#3fae4a" stroke="#00000055" stroke-width="0.4"/>
<circle cx="325.74" cy="513.00" r="1.30" fill="#3fae4a" stroke="#00000055" stroke-width="0.4"/>
<circle cx="327.48" cy="513.00" r="1.30" fill="#3fae4a" stroke="#00000055" stroke-width="0.4"/>
<circle cx="329.22" cy="513.00" r="1.30" fill="#3fae4a" stroke="#00000055" stroke-width="0.4"/>
<circle cx="330.96" cy="513.00" r="1.30" fill="#3fae4a" stroke="#00000055" stroke-width="0.4"/>
<circle cx="332.70" cy="513.00" r="1.30" fill="#3fae4a" stroke="#00000055" stroke-width="0.4"/>
<circle cx="334.44" cy="513.00" r="1.30" fill="#3fae4a" stroke="#00000055" stroke-width="0.4"/>
<circle cx="336.18" cy="513.00" r="1.30" fill="#3fae4a" stroke="#00000055" stroke-width="0.4"/>
<circle cx="337.92" cy="513.00" r="1.30" fill="#3fae4a" stroke="#00000055" stroke-width="0.4"/>
<circle cx="339.66" cy="513.00" r="1.30" fill="#3fae4a" stroke="#00000055" stroke-width="0.4"/>
<circle cx="341.40" cy="513.00" r="1.30" fill="#3fae4a" stroke="#00000055" stroke-width="0.4"/>
<line x1="309.90" y1="463.30" x2="319.00" y2="463.30" stroke="#22609a" stroke-width="1.4"/>
<circle cx="314.40" cy="463.30" r="1.30" fill="#22609a" stroke="#22609a" stroke-width="0.5"/>
<text x="321.70" y="465.82" font-size="7.0" text-anchor="start" font-weight="normal" font-style="normal" fill="#333" textLength="9.00" lengthAdjust="spacingAndGlyphs">ND</text>
<line x1="309.90" y1="470.70" x2="319.00" y2="470.70" stroke="#d12a44" stroke-width="1.4"/>
<circle cx="314.40" cy="470.70" r="1.30" fill="#d12a44" stroke="#d12a44" stroke-width="0.5"/>
<text x="321.70" y="473.22" font-size="7.0" text-anchor="start" font-weight="normal" font-style="normal" fill="#333" textLength="12.50" lengthAdjust="spacingAndGlyphs">HFD</text>
<line x1="309.90" y1="478.00" x2="319.00" y2="478.00" stroke="#3fae4a" stroke-width="1.4"/>
<circle cx="314.40" cy="478.00" r="1.30" fill="#3fae4a" stroke="#3fae4a" stroke-width="0.5"/>
<text x="321.70" y="480.52" font-size="7.0" text-anchor="start" font-weight="normal" font-style="normal" fill="#333" textLength="26.30" lengthAdjust="spacingAndGlyphs">HFD.LJN</text>
<rect x="0" y="0" width="520" height="1" fill="#5c5c5c"/>
<rect x="0" y="666" width="520" height="1" fill="#4a4a4a"/>
<rect x="0" y="0" width="1" height="667" fill="#505050"/>
<rect x="519" y="0" width="1" height="667" fill="#505050"/>
<rect x="1" y="1" width="1" height="665" fill="#d8d8d8"/>
<rect x="518" y="1" width="1" height="665" fill="#d8d8d8"/>
<rect x="1" y="1" width="518" height="1" fill="#dcdcdc"/>
<rect x="1" y="665" width="518" height="1" fill="#d8d8d8"/>
</svg>
</body></html>
